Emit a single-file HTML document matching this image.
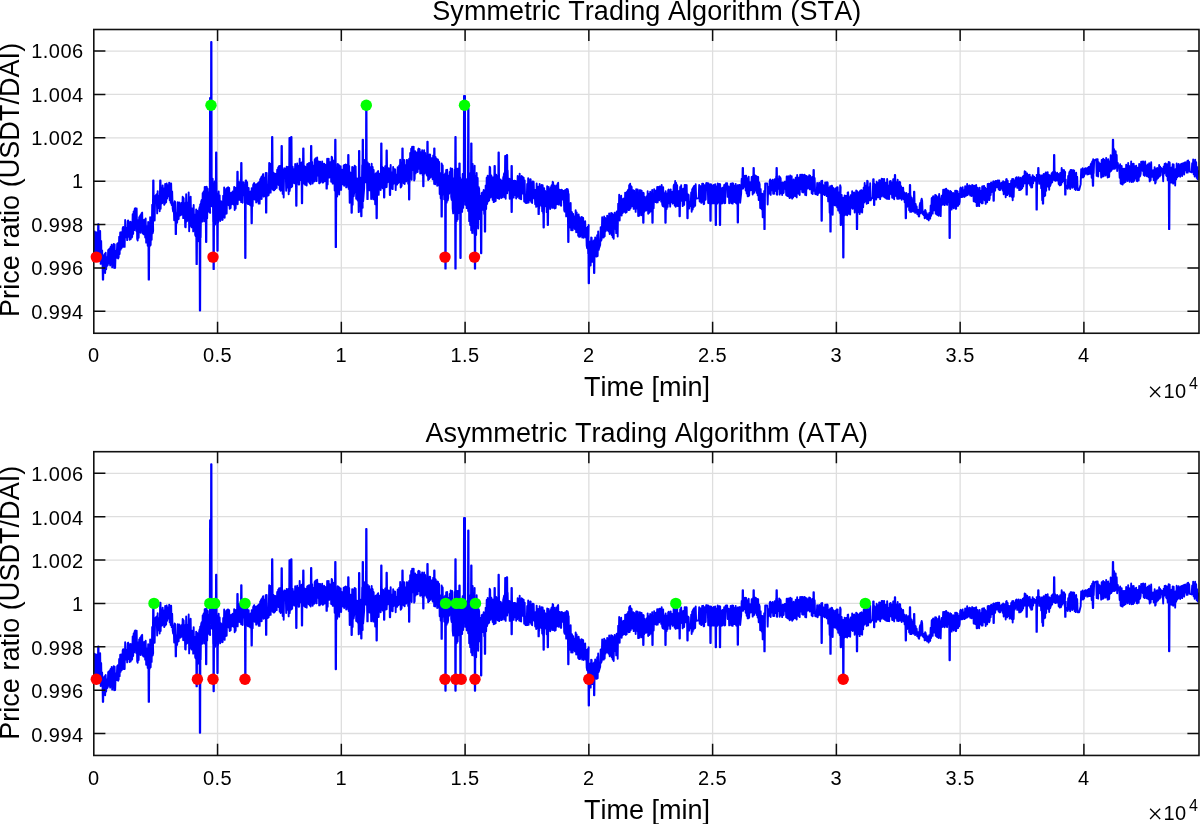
<!DOCTYPE html>
<html><head><meta charset="utf-8"><title>Trading Algorithms</title>
<style>html,body{margin:0;padding:0;background:#fff}body{width:1200px;height:824px;overflow:hidden}</style>
</head><body>
<svg width="1200" height="824" viewBox="0 0 1200 824" style="display:block">
<rect width="1200" height="824" fill="#fff"/>
<defs>
<clipPath id="c0"><rect x="93.8" y="29.5" width="1105.2" height="303.75"/></clipPath>
<clipPath id="c422"><rect x="93.8" y="451.7" width="1105.2" height="303.75000000000006"/></clipPath>
</defs>
<g font-family='"Liberation Sans", sans-serif' fill="#000" style="font-kerning:none">
<path d="M217.56 29.50V333.25M341.33 29.50V333.25M465.09 29.50V333.25M588.85 29.50V333.25M712.61 29.50V333.25M836.38 29.50V333.25M960.14 29.50V333.25M1083.90 29.50V333.25M93.80 311.31H1199.00M93.80 267.94H1199.00M93.80 224.57H1199.00M93.80 181.20H1199.00M93.80 137.83H1199.00M93.80 94.46H1199.00M93.80 51.09H1199.00" stroke="#dedede" stroke-width="1.3" fill="none"/>
<g clip-path="url(#c0)"><polyline points="93.67 248.27 94.17 249.40 94.67 231.53 95.17 253.69 95.67 232.51 96.17 232.31 96.67 255.19 97.17 234.62 97.67 257.23 98.17 257.90 97.88 243.67 98.13 224.17 98.53 224.17 98.78 243.67 98.67 258.56 99.17 232.83 99.67 259.90 100.17 231.01 100.67 263.88 101.17 240.87 101.67 263.59 102.17 250.34 102.67 270.10 102.55 264.92 102.80 279.67 103.20 279.67 103.45 264.92 103.17 255.41 103.67 256.07 104.17 255.08 104.67 254.09 105.17 273.09 105.67 252.82 106.17 269.30 106.67 256.90 107.17 265.86 107.67 265.36 108.17 250.08 108.67 249.58 109.17 263.48 109.67 248.34 110.17 265.46 110.67 246.69 111.17 261.11 111.67 244.73 112.17 267.41 112.67 248.35 113.17 265.05 113.67 243.99 114.17 268.03 114.67 244.50 115.17 267.85 115.67 251.71 116.17 250.93 116.67 257.74 117.17 244.05 117.67 243.13 118.17 258.53 118.67 257.20 119.17 236.68 119.67 253.94 120.17 232.56 120.67 249.63 121.17 232.31 121.67 247.93 122.17 246.60 122.67 228.12 123.17 226.93 123.67 246.88 124.17 246.87 124.67 246.86 125.17 220.01 125.67 237.33 126.17 227.98 126.67 227.78 127.17 240.16 127.67 221.10 128.17 220.43 128.67 236.92 129.17 224.09 129.67 239.82 130.17 221.67 130.67 239.15 131.17 222.09 131.67 237.64 132.17 236.97 132.67 214.15 133.17 233.86 133.67 211.33 134.17 230.16 134.67 209.04 135.17 208.18 135.67 208.57 136.17 230.69 136.67 208.40 137.17 239.02 137.67 240.57 138.17 220.30 138.67 237.76 139.17 217.18 139.67 232.16 140.17 215.41 140.67 232.77 141.17 214.60 141.67 213.11 142.17 212.62 142.67 233.13 143.17 233.73 143.67 234.32 144.17 219.81 144.67 220.29 145.17 237.44 145.67 218.51 146.17 242.65 146.67 226.02 147.17 227.15 147.67 245.71 148.17 222.07 148.67 242.85 148.38 234.50 148.63 279.67 149.03 279.67 149.28 234.50 149.17 224.71 149.67 246.51 150.17 217.13 150.67 245.00 151.17 218.69 151.67 239.68 152.17 204.82 152.67 233.42 153.17 230.93 152.88 211.67 153.13 180.50 153.53 180.50 153.78 211.67 153.67 196.68 154.17 196.57 154.67 220.48 155.17 196.09 155.67 195.51 156.17 194.93 156.67 194.34 157.17 213.38 157.67 191.09 158.17 208.17 158.67 207.24 159.17 195.75 159.67 211.28 160.17 186.35 159.88 197.79 160.13 180.50 160.53 180.50 160.78 197.79 160.67 208.82 161.17 187.33 161.67 203.49 162.17 203.20 162.67 185.40 163.17 201.40 163.67 188.36 164.17 204.78 164.67 203.80 165.17 183.85 165.67 202.79 166.17 202.13 166.67 183.35 167.17 198.50 167.67 185.20 168.17 196.40 168.67 196.36 169.17 182.61 169.67 200.20 170.17 183.53 170.67 202.85 171.17 183.51 171.67 204.96 172.17 191.47 172.67 208.27 173.17 211.48 173.67 203.43 174.17 220.26 174.67 201.21 175.17 202.04 175.67 223.55 175.38 213.00 175.63 234.17 176.03 234.17 176.28 213.00 176.17 223.75 176.67 223.12 177.17 222.48 177.67 202.09 178.17 219.37 178.67 218.98 179.17 202.35 179.67 215.71 180.17 215.47 180.67 215.23 181.17 202.92 181.67 214.43 182.17 214.10 182.67 196.80 183.17 218.14 183.67 198.20 184.17 217.61 184.67 202.83 185.17 226.96 185.67 227.36 186.17 194.26 186.67 221.49 187.17 220.93 187.67 202.41 188.17 216.93 188.67 192.34 189.17 231.20 189.67 198.45 190.17 224.54 190.67 196.59 191.17 226.37 191.67 227.31 192.17 208.41 192.67 208.99 193.17 231.42 193.67 204.94 194.17 230.02 194.67 214.42 195.17 234.84 195.67 236.16 196.17 209.40 196.22 224.17 196.47 264.17 196.87 264.17 197.12 224.17 196.67 240.32 197.17 210.66 197.67 211.66 198.17 212.66 198.67 241.32 199.17 209.24 199.67 206.89 199.55 222.29 199.80 310.50 200.20 310.50 200.45 222.29 200.17 204.46 200.67 237.56 201.17 201.87 201.67 200.01 202.17 221.63 202.67 193.31 203.17 218.06 203.67 191.37 204.17 221.38 204.67 186.99 205.17 220.18 205.67 186.83 205.72 201.56 205.97 242.00 206.37 242.00 206.62 201.56 206.17 218.37 206.67 186.71 207.17 218.19 207.67 188.73 208.17 208.98 208.67 192.67 209.17 211.87 209.67 212.39 210.17 212.91 209.75 200.71 210.00 98.00 210.40 98.00 210.65 200.71 210.67 181.93 211.17 181.20 210.85 200.32 211.10 42.00 211.50 42.00 211.75 200.32 211.67 206.27 212.17 206.24 212.67 178.67 213.17 221.86 213.22 200.58 213.47 269.17 213.87 269.17 214.12 200.58 213.67 188.85 214.17 213.89 214.67 181.53 215.17 224.59 215.67 188.75 216.17 190.32 215.75 205.65 216.00 152.50 216.40 152.50 216.65 205.65 216.67 192.58 217.17 221.28 217.05 207.42 217.30 250.83 217.70 250.83 217.95 207.42 217.67 193.87 218.17 222.72 218.67 191.40 219.17 219.03 219.67 195.37 220.17 221.10 220.67 200.87 221.17 201.54 221.67 202.22 222.17 220.00 222.67 219.66 223.17 195.71 223.67 216.90 224.17 187.35 224.67 217.68 225.17 193.97 225.67 213.87 226.17 188.83 226.67 213.51 227.17 187.73 227.67 187.48 228.17 187.23 228.67 205.29 229.17 187.94 229.67 208.75 230.17 208.32 230.67 207.99 231.17 192.59 231.67 204.26 232.17 203.93 232.67 191.57 233.17 191.90 233.67 204.63 234.17 186.95 234.67 210.10 235.17 187.73 235.67 208.57 236.17 187.83 236.67 200.49 237.17 184.22 237.05 194.67 237.30 171.67 237.70 171.67 237.95 194.67 237.67 204.18 238.17 182.74 238.67 181.74 239.17 199.72 239.67 187.80 240.17 200.04 240.67 180.06 241.17 202.13 240.88 191.04 241.13 163.00 241.53 163.00 241.78 191.04 241.67 180.73 242.17 202.32 242.67 202.73 243.17 182.29 243.67 182.36 244.17 195.42 244.67 185.73 245.17 200.99 244.88 192.08 245.13 258.00 245.53 258.00 245.78 192.08 245.67 180.49 246.17 180.49 246.67 202.08 247.17 182.27 247.67 203.78 248.17 204.11 248.67 187.91 249.17 204.17 249.67 193.28 250.17 205.22 250.67 191.36 251.17 206.24 251.22 197.50 251.47 223.33 251.87 223.33 252.12 197.50 251.67 188.10 252.17 206.11 252.67 206.06 253.17 184.99 253.67 183.99 254.17 183.00 254.67 199.59 255.17 184.59 255.67 184.54 256.17 202.50 256.67 201.89 257.17 183.92 257.67 183.46 258.17 182.99 258.67 203.61 259.17 181.97 259.67 203.67 260.17 179.32 260.67 198.74 261.17 177.20 261.67 199.03 262.17 176.48 262.67 175.25 263.17 174.02 263.67 196.62 264.17 177.82 264.67 177.40 265.17 195.96 265.67 173.03 265.72 182.50 265.97 212.67 266.37 212.67 266.62 182.50 266.17 193.72 266.67 172.86 267.17 195.95 267.67 195.66 268.17 195.38 268.67 195.09 269.17 163.01 269.67 192.76 270.17 163.64 270.67 192.67 271.17 168.37 271.67 187.47 272.17 166.74 271.75 178.06 272.00 137.00 272.40 137.00 272.65 178.06 272.67 189.51 273.17 172.40 273.67 190.27 274.17 190.28 274.67 173.38 275.17 189.29 275.67 173.90 276.17 187.76 276.67 187.91 277.17 169.78 277.67 184.27 278.17 167.51 278.67 184.95 279.17 165.94 279.67 189.47 280.17 166.05 280.67 190.82 281.17 168.63 281.67 189.68 281.25 178.42 281.50 146.00 281.90 146.00 282.15 178.42 282.17 169.09 282.67 193.87 283.17 170.20 283.67 197.58 284.17 168.28 284.67 168.47 285.17 168.65 285.67 168.84 286.17 190.82 286.67 166.82 287.17 187.61 287.67 187.29 288.17 167.00 288.67 194.19 289.17 166.45 289.15 179.35 289.40 138.00 289.80 138.00 290.05 179.35 289.67 190.95 290.17 186.08 290.67 170.33 291.17 187.34 290.88 175.83 291.13 137.00 291.53 137.00 291.78 175.83 291.67 170.74 292.17 186.51 292.67 166.67 293.17 178.55 293.67 169.16 294.17 183.34 294.67 183.32 295.17 163.95 295.67 179.19 296.17 166.40 295.88 174.33 296.13 205.83 296.53 205.83 296.78 174.33 296.67 181.19 297.17 163.48 297.67 180.78 298.17 165.85 298.67 184.49 299.17 184.45 299.67 158.69 300.17 180.15 300.67 162.98 301.17 178.07 301.67 162.54 301.55 170.71 301.80 203.33 302.20 203.33 302.45 170.71 302.17 163.30 302.67 164.07 303.17 164.83 302.88 172.32 303.13 148.33 303.53 148.33 303.78 172.32 303.67 165.60 304.17 183.77 304.67 166.30 305.17 184.82 305.67 166.99 306.17 167.23 306.67 185.47 307.17 164.21 307.67 177.79 308.17 163.58 308.67 181.90 309.17 162.89 309.67 183.20 310.17 168.83 310.67 184.35 310.72 173.18 310.97 145.83 311.37 145.83 311.62 173.18 311.17 162.32 311.67 180.36 312.17 162.01 312.67 183.58 313.17 165.79 313.67 181.69 314.17 181.54 314.67 159.77 315.17 159.04 315.67 158.30 316.17 181.14 316.67 181.07 317.17 157.41 317.67 175.41 318.17 175.65 318.67 161.47 319.17 183.19 319.67 183.20 320.17 161.66 320.67 181.98 321.17 166.14 321.67 180.64 322.17 161.45 322.67 182.62 323.17 182.49 323.67 163.98 324.17 163.65 324.67 181.25 325.17 164.65 325.67 178.06 326.17 178.11 326.22 171.38 326.47 188.67 326.87 188.67 327.12 171.38 326.67 178.16 327.17 158.78 327.67 184.42 328.17 159.17 328.67 158.72 329.17 177.67 329.67 162.11 330.17 176.34 330.67 161.94 331.17 181.83 331.67 156.74 332.17 157.89 332.67 183.65 333.17 160.51 333.67 183.52 334.17 165.41 334.67 190.59 335.17 172.38 334.88 178.75 335.13 139.67 335.53 139.67 335.78 178.75 335.67 173.25 335.38 179.82 335.63 247.17 336.03 247.17 336.28 179.82 336.17 197.02 336.67 169.12 337.17 196.59 337.67 164.03 338.17 164.49 338.67 164.71 339.17 194.48 339.67 166.08 340.17 189.71 340.67 166.20 341.17 189.90 341.67 169.75 342.17 182.38 342.67 169.79 343.17 184.45 343.67 165.44 344.17 185.78 344.67 165.02 345.17 182.69 345.67 164.36 346.17 187.37 346.67 164.97 347.17 181.51 347.67 166.42 348.17 187.27 347.88 179.82 348.13 155.00 348.53 155.00 348.78 179.82 348.67 188.91 349.17 165.84 349.67 202.73 350.17 172.31 350.67 172.81 351.17 172.89 351.22 188.12 351.47 212.83 351.87 212.83 352.12 188.12 351.67 205.30 352.17 166.92 352.67 204.70 353.17 167.35 353.67 196.40 354.17 192.63 354.67 165.67 355.17 185.10 355.67 166.59 356.17 198.85 356.67 178.26 357.17 198.08 357.67 200.45 358.17 178.52 358.67 212.17 358.72 187.83 358.97 150.83 359.37 150.83 359.62 187.83 359.17 162.82 359.67 205.99 360.17 177.35 360.67 211.68 361.17 178.55 360.88 187.50 361.13 216.33 361.53 216.33 361.78 187.50 361.67 199.29 362.17 165.27 362.67 207.74 362.38 180.83 362.63 139.67 363.03 139.67 363.28 180.83 363.17 201.20 363.67 194.66 364.17 188.12 364.67 159.90 365.17 160.34 365.67 182.28 366.17 164.33 365.88 176.89 366.13 106.67 366.53 106.67 366.78 176.89 366.67 164.79 367.17 190.00 367.05 178.04 367.30 199.17 367.70 199.17 367.95 178.04 367.67 162.41 368.17 183.36 368.67 183.89 369.17 164.00 369.67 190.40 370.17 167.16 370.67 167.34 371.17 198.98 371.67 163.72 372.17 197.41 372.67 167.00 373.17 199.25 373.67 169.89 374.17 199.38 374.67 179.58 375.17 204.31 375.67 173.40 376.17 199.67 376.22 188.75 376.47 218.33 376.87 218.33 377.12 188.75 376.67 173.17 377.17 172.59 377.67 171.90 378.17 170.99 378.67 194.88 379.17 174.49 379.67 189.20 380.17 173.35 380.67 190.00 381.17 172.90 380.88 177.50 381.13 143.33 381.53 143.33 381.78 177.50 381.67 186.09 382.17 166.90 382.67 188.33 383.17 167.66 383.67 186.99 383.72 176.85 383.97 197.50 384.37 197.50 384.62 176.85 384.17 169.40 384.67 187.34 385.17 166.31 385.67 187.33 386.17 187.16 386.22 175.71 386.47 150.50 386.87 150.50 387.12 175.71 386.67 186.99 387.17 170.20 387.67 182.22 388.17 168.14 388.67 180.89 389.17 168.44 389.67 186.22 389.55 176.38 389.80 195.00 390.20 195.00 390.45 176.38 390.17 186.49 390.67 164.88 391.17 188.53 391.67 172.26 392.17 172.69 392.67 189.14 393.17 166.99 393.67 183.77 394.17 169.15 394.67 169.26 395.17 169.38 395.67 190.10 396.17 174.64 396.67 174.73 397.17 184.49 397.67 167.19 398.17 182.98 398.67 182.55 399.17 165.41 399.67 181.68 400.17 159.73 400.67 187.55 401.17 186.70 401.67 185.85 402.17 159.76 402.05 172.25 402.30 148.33 402.70 148.33 402.95 172.25 402.67 176.97 403.17 159.68 403.67 183.20 404.17 159.90 404.67 183.98 405.17 165.00 405.67 181.19 406.17 181.40 406.67 160.01 407.17 177.18 407.67 160.18 408.17 183.81 408.67 183.30 408.72 169.58 408.97 199.50 409.37 199.50 409.62 169.58 409.17 158.66 409.67 182.34 410.17 152.99 410.67 174.45 411.17 148.73 411.67 179.78 412.17 146.60 412.67 169.53 413.17 170.04 413.67 146.61 414.17 180.47 414.67 178.99 415.17 151.31 415.67 173.36 416.17 153.37 416.67 152.53 417.17 171.87 417.67 172.05 418.17 149.24 418.67 148.62 419.17 168.80 419.67 149.21 420.17 173.60 420.67 152.22 421.17 152.35 421.67 173.18 422.17 150.14 422.67 175.34 423.17 153.17 422.88 162.33 423.13 186.33 423.53 186.33 423.78 162.33 423.67 168.40 424.17 150.21 424.67 173.46 425.17 152.85 425.67 170.17 426.17 159.05 426.67 174.70 427.17 175.64 427.05 166.06 427.30 141.67 427.70 141.67 427.95 166.06 427.67 153.23 428.17 180.01 428.67 157.08 429.17 179.03 429.67 154.47 430.17 154.69 430.67 177.60 431.17 158.30 431.67 158.22 432.17 158.51 432.67 179.37 433.17 155.52 433.67 155.94 434.17 183.92 433.88 171.28 434.13 148.33 434.53 148.33 434.78 171.28 434.67 166.79 435.17 184.31 435.67 157.19 436.17 178.21 436.67 159.28 437.17 185.78 437.67 159.32 438.17 159.99 438.67 185.34 439.17 161.86 439.67 194.00 440.17 172.89 440.67 198.30 441.17 199.12 441.22 181.83 441.47 216.67 441.87 216.67 442.12 181.83 441.67 163.33 442.17 195.24 442.67 165.36 443.17 190.99 443.67 174.74 444.17 199.37 444.67 199.76 445.17 173.39 445.05 184.21 445.30 268.67 445.70 268.67 445.95 184.21 445.67 200.95 446.17 170.02 446.67 202.62 447.17 169.66 447.67 200.63 448.17 198.15 448.67 175.65 449.17 193.63 449.67 171.84 450.17 190.97 450.67 168.21 451.17 196.74 451.67 199.92 452.17 168.72 452.67 208.45 453.17 213.42 453.67 178.13 454.17 207.50 454.67 169.63 455.17 222.60 455.05 195.08 455.30 137.00 455.70 137.00 455.95 195.08 455.05 195.08 455.30 268.67 455.70 268.67 455.95 195.08 455.67 222.10 456.17 178.88 456.67 221.15 457.17 168.79 457.67 219.39 458.17 168.79 458.67 213.16 459.17 170.18 459.05 192.13 459.30 163.33 459.70 163.33 459.95 192.13 459.67 212.88 460.17 177.44 460.05 192.73 460.30 258.00 460.70 258.00 460.95 192.73 460.67 213.22 461.17 179.44 461.67 211.87 462.17 211.87 462.67 173.93 463.17 207.91 463.67 172.99 463.72 186.67 463.97 95.83 464.37 95.83 464.62 186.67 464.17 197.53 464.67 201.12 464.38 190.67 464.63 95.83 465.03 95.83 465.28 190.67 465.17 204.71 465.67 178.86 466.17 179.13 466.67 208.16 467.17 186.81 467.67 187.02 468.17 211.04 467.88 195.83 468.13 108.33 468.53 108.33 468.78 195.83 468.67 175.52 469.17 221.15 469.67 174.56 470.17 224.93 470.67 172.65 471.17 230.36 470.88 199.87 471.13 143.33 471.53 143.33 471.78 199.87 471.67 167.65 472.17 233.07 472.67 163.85 473.17 224.62 473.67 174.69 474.17 233.68 474.67 165.82 474.55 202.22 474.80 268.67 475.20 268.67 475.45 202.22 475.17 236.97 475.67 176.64 476.17 235.00 476.67 172.99 477.17 217.74 477.67 178.02 478.17 228.57 478.67 186.98 479.17 188.99 479.67 219.02 480.17 218.59 480.67 195.86 480.72 206.62 480.97 253.33 481.37 253.33 481.62 206.62 481.17 219.07 481.67 193.01 482.17 192.66 482.67 192.32 483.17 209.73 483.67 189.93 484.17 213.95 484.67 194.88 484.55 197.47 484.80 231.67 485.20 231.67 485.45 197.47 485.17 211.61 485.67 185.39 486.17 209.08 486.67 177.77 487.17 203.86 487.67 175.76 488.17 201.44 488.67 200.93 489.17 200.42 489.67 166.61 490.17 167.62 490.67 197.54 491.17 175.21 491.67 176.71 492.17 178.22 492.67 199.89 493.17 177.56 493.67 202.11 494.17 177.16 494.22 188.30 494.47 165.83 494.87 165.83 495.12 188.30 494.67 201.49 495.17 174.87 495.67 201.05 496.17 174.68 496.67 196.07 497.17 176.34 497.67 198.15 498.17 181.46 498.22 187.30 498.47 152.50 498.87 152.50 499.12 187.30 498.67 181.48 499.17 198.92 499.67 180.46 500.17 194.88 500.67 179.47 501.17 197.93 501.67 181.01 502.17 180.88 502.67 197.41 503.17 177.75 503.67 175.89 504.17 173.16 504.67 197.32 505.17 164.32 504.88 180.00 505.13 155.83 505.53 155.83 505.78 180.00 505.67 198.68 506.17 172.40 506.67 173.77 506.55 181.50 506.80 155.00 507.20 155.00 507.45 181.50 507.17 193.26 507.67 170.55 508.17 189.53 508.67 190.39 509.17 178.76 509.67 198.68 510.17 179.27 510.67 179.41 511.17 197.95 511.22 187.08 511.47 165.83 511.87 165.83 512.12 187.08 511.22 187.08 511.47 212.00 511.87 212.00 512.12 187.08 511.67 177.66 512.17 197.73 512.67 180.86 513.17 180.99 513.67 197.65 514.17 180.79 514.67 180.69 515.17 195.04 515.67 180.95 516.17 198.51 516.67 182.81 517.17 196.96 517.67 175.97 518.17 196.20 518.67 177.10 519.17 198.33 519.67 173.62 520.17 198.75 520.67 180.28 521.17 199.23 521.67 176.07 522.17 176.67 522.67 193.56 523.17 177.36 523.67 177.69 524.17 201.44 524.67 180.38 525.17 202.24 525.67 202.90 526.17 202.99 526.67 202.80 527.17 183.83 527.67 202.75 528.17 178.26 528.67 202.52 529.17 183.09 529.67 200.19 530.17 179.17 530.67 179.43 531.17 201.62 531.67 202.33 532.17 203.03 532.67 181.39 533.17 181.66 533.67 181.93 534.17 198.45 534.67 189.90 535.17 204.27 535.67 189.75 536.17 206.85 536.67 183.42 537.17 206.19 537.67 206.06 538.17 186.63 538.22 196.45 538.47 214.17 538.87 214.17 539.12 196.45 538.67 208.98 539.17 208.79 539.67 184.00 540.17 204.34 540.67 189.08 541.17 205.75 541.67 184.99 542.17 211.27 542.67 185.26 543.17 213.47 543.22 200.31 543.47 227.50 543.87 227.50 544.12 200.31 543.67 188.20 544.17 188.17 544.67 206.58 545.17 191.03 545.67 203.88 546.17 194.89 546.67 212.13 547.17 186.24 547.67 209.18 547.38 199.82 547.63 225.00 548.03 225.00 548.28 199.82 548.17 209.12 548.67 186.85 549.17 203.80 549.67 190.45 550.17 209.08 550.67 188.29 551.17 186.75 551.67 185.21 552.17 207.90 552.67 181.68 553.17 182.51 553.67 207.77 554.17 185.43 554.67 208.53 555.17 187.72 555.67 208.07 556.17 185.34 556.67 204.42 557.17 203.94 557.67 183.51 558.17 182.84 558.67 204.65 559.17 189.46 559.67 199.15 560.17 189.93 560.67 205.55 561.17 205.69 561.67 189.66 562.17 190.26 562.67 190.87 563.17 199.80 563.67 190.87 564.17 209.91 564.67 211.65 565.17 190.05 565.67 191.57 566.17 216.41 566.67 188.85 567.17 212.88 567.67 189.27 568.17 191.60 567.88 209.22 568.13 242.00 568.53 242.00 568.78 209.22 568.67 193.93 569.17 224.01 569.67 226.04 570.17 227.45 570.67 202.99 571.17 230.34 571.67 211.78 572.17 213.01 572.67 230.27 573.17 213.88 573.67 224.60 574.17 216.57 574.67 228.79 575.17 229.23 575.67 210.16 576.17 232.28 576.67 212.35 577.17 231.98 577.67 215.31 578.17 235.81 578.67 214.49 579.17 236.91 579.67 217.25 580.17 236.65 580.67 220.32 581.17 232.92 581.67 216.88 582.17 237.46 582.67 217.77 583.17 217.93 583.67 237.80 584.17 224.20 584.67 236.50 585.17 221.14 585.67 237.38 586.17 227.59 586.67 245.49 587.17 248.23 587.67 226.99 588.17 253.79 588.67 224.90 588.38 245.00 588.63 283.33 589.03 283.33 589.28 245.00 589.17 259.99 589.67 263.11 590.17 241.35 590.67 265.43 591.17 237.41 591.67 237.82 592.17 261.92 592.67 242.43 593.17 241.28 593.67 257.39 593.72 245.83 593.97 273.00 594.37 273.00 594.62 245.83 594.17 240.26 594.67 257.20 595.17 237.34 595.67 256.35 596.17 256.34 596.67 256.56 597.17 235.08 597.67 256.10 598.17 231.34 598.67 249.92 599.17 247.88 599.67 246.37 600.17 244.85 600.67 227.15 601.17 240.62 601.67 239.04 602.17 217.25 602.67 237.38 603.17 224.00 603.67 237.43 604.17 216.49 604.67 236.32 605.17 218.01 605.67 231.28 606.17 219.25 606.67 229.76 607.17 215.63 607.67 230.10 608.17 230.77 608.67 231.43 609.17 213.37 609.67 233.99 610.17 216.59 610.67 232.61 611.17 212.89 611.67 234.98 612.17 213.39 612.67 237.29 613.17 215.16 613.67 238.84 614.17 215.26 614.67 212.64 615.17 228.81 615.67 215.20 616.17 233.16 616.67 211.65 617.17 211.30 617.67 236.54 618.17 203.60 618.67 218.15 619.17 194.78 619.67 220.53 620.17 202.12 620.67 211.74 621.17 195.59 621.67 215.50 622.17 200.18 622.67 212.99 623.17 198.84 623.67 198.56 624.17 211.83 624.67 211.70 625.17 192.60 625.67 212.71 626.17 192.77 626.67 212.04 627.17 191.46 627.67 206.45 628.17 189.70 628.67 210.15 629.17 185.12 629.67 209.84 630.17 183.65 630.67 207.99 631.17 186.15 631.67 186.93 632.17 206.36 632.67 206.34 633.17 190.10 633.67 208.91 634.17 190.68 634.67 208.46 635.17 193.05 635.67 211.86 636.17 189.31 636.67 189.33 637.17 208.54 637.67 189.48 638.17 215.97 638.67 215.85 639.17 215.72 639.67 190.12 640.17 190.23 640.67 190.35 641.17 215.22 641.67 190.77 642.17 212.62 642.67 212.53 643.17 192.76 642.88 203.69 643.13 222.83 643.53 222.83 643.78 203.69 643.67 192.99 644.17 211.93 644.67 196.86 645.17 210.69 645.67 210.54 646.17 210.54 646.67 196.08 647.17 209.73 647.67 191.17 648.17 213.77 648.67 193.98 649.17 212.78 649.67 212.28 650.17 191.73 650.67 211.28 651.17 196.27 651.67 203.95 652.17 190.01 652.05 199.06 652.30 222.83 652.70 222.83 652.95 199.06 652.67 204.31 653.17 194.01 653.67 208.35 654.17 189.09 654.67 201.47 655.17 190.86 655.67 202.17 656.17 190.50 656.67 202.54 657.17 186.97 657.67 202.41 658.17 187.03 658.67 200.23 659.17 200.19 659.67 186.42 660.17 195.84 660.67 186.71 661.17 201.67 661.67 185.01 662.17 204.00 662.67 206.00 663.17 187.31 663.67 206.65 664.17 192.89 664.67 193.54 665.17 209.13 665.05 198.63 665.30 222.83 665.70 222.83 665.95 198.63 665.67 191.32 666.17 209.43 666.67 208.97 667.17 193.51 667.67 206.87 668.17 190.31 668.67 189.48 669.17 203.31 669.67 191.82 670.17 206.65 670.67 189.33 671.17 202.06 671.67 192.04 672.17 191.81 672.67 203.65 673.17 203.17 673.67 185.79 674.17 184.39 674.67 205.45 675.17 180.97 675.67 206.69 676.17 182.84 676.67 205.77 677.17 185.24 677.67 206.02 678.17 206.01 678.67 191.08 679.17 191.01 679.22 196.45 679.47 216.33 679.87 216.33 680.12 196.45 679.67 205.70 680.17 187.03 680.67 200.97 681.17 185.18 681.67 200.62 682.17 189.56 682.67 206.15 683.17 188.75 683.67 188.73 684.17 204.90 684.67 184.98 685.17 185.03 685.67 200.20 686.17 185.06 686.67 185.23 687.17 205.44 687.05 197.20 687.30 218.33 687.70 218.33 687.95 197.20 687.67 194.02 688.17 203.14 688.67 194.88 689.17 208.44 689.67 202.10 690.17 205.95 690.67 206.07 691.17 192.45 691.67 211.82 692.17 189.30 692.67 209.46 693.17 187.33 693.67 207.32 694.17 186.04 694.67 185.92 695.17 205.84 695.67 184.17 696.17 198.67 696.67 198.55 697.17 198.42 697.67 198.33 698.17 198.29 698.67 198.25 699.17 184.94 699.67 201.54 700.17 186.13 700.67 186.21 701.17 202.84 701.67 202.75 702.17 183.79 702.67 183.71 703.17 183.63 703.67 204.18 704.17 204.10 704.67 185.08 705.17 199.89 705.67 199.81 706.17 183.09 706.67 183.00 707.17 183.13 707.67 183.25 708.17 203.02 708.67 183.48 709.17 203.30 709.67 185.48 710.17 200.68 710.05 193.83 710.30 220.83 710.70 220.83 710.95 193.83 710.67 184.27 711.17 184.40 711.67 203.58 712.17 185.74 712.67 185.85 713.17 203.39 713.67 184.87 714.17 203.34 714.67 203.34 715.17 184.20 715.67 203.06 715.38 193.60 715.63 225.00 716.03 225.00 716.28 193.60 716.17 186.57 716.67 186.40 717.17 203.66 717.67 183.35 718.17 202.62 718.67 202.62 719.17 184.02 719.67 184.10 719.55 193.56 719.80 225.00 720.20 225.00 720.45 193.56 720.17 184.18 720.67 203.59 721.17 203.59 721.67 203.59 722.17 188.04 722.67 203.19 723.17 187.39 723.67 198.85 724.17 185.03 724.67 203.23 725.17 203.13 725.67 183.40 726.17 183.30 726.67 183.20 727.17 183.20 727.67 196.86 728.17 186.44 728.67 186.45 729.17 203.18 729.67 188.55 730.17 196.87 730.67 183.82 731.17 203.17 731.67 203.25 732.17 183.29 732.67 203.67 733.17 183.53 733.67 201.91 734.17 185.69 734.67 201.93 735.17 201.96 735.67 183.86 736.17 203.32 736.67 189.53 737.17 203.91 737.67 185.13 737.38 193.49 737.63 222.50 738.03 222.50 738.28 193.49 738.17 199.58 738.67 199.61 739.17 185.03 739.67 184.89 740.17 202.73 740.67 198.01 741.17 193.29 741.67 178.77 742.17 188.68 742.67 176.16 742.38 182.31 742.63 168.00 743.03 168.00 743.28 182.31 743.17 188.53 743.67 175.98 744.17 175.86 744.67 186.84 745.17 175.60 745.67 190.50 746.17 175.80 746.67 193.48 747.17 178.09 747.67 196.21 748.17 196.21 748.67 176.61 749.17 195.61 749.67 181.84 750.17 190.32 750.67 190.32 751.17 189.99 751.67 177.02 752.17 176.89 752.67 194.43 753.17 175.37 753.22 184.12 753.47 168.00 753.87 168.00 754.12 184.12 753.67 193.13 754.17 192.46 754.67 174.88 755.17 190.66 755.67 175.91 756.17 176.07 756.67 192.88 757.17 176.68 757.67 195.30 758.17 177.03 758.67 200.06 759.17 182.30 759.67 184.37 760.17 207.94 760.67 188.99 761.17 207.25 761.67 209.35 762.17 193.73 762.67 217.22 763.17 194.16 763.67 214.48 764.17 191.06 764.05 198.83 764.30 229.17 764.70 229.17 764.95 198.83 764.67 213.59 765.17 183.36 765.67 183.34 766.17 183.34 766.67 183.34 767.17 183.34 767.67 204.47 768.17 187.94 768.67 186.72 769.17 193.61 769.67 180.95 770.17 179.51 770.67 194.86 771.17 180.60 771.67 190.29 772.17 190.22 772.67 179.79 773.17 193.84 773.67 193.73 774.17 193.85 774.67 179.12 775.17 191.00 775.67 190.93 776.17 176.43 776.22 185.00 776.47 168.00 776.87 168.00 777.12 185.00 776.67 194.50 777.17 194.67 777.67 179.32 778.17 179.22 778.67 188.73 779.17 176.21 779.67 194.64 780.17 177.27 780.67 178.51 781.17 193.13 781.67 183.23 782.17 194.97 782.67 182.54 783.17 193.06 783.67 192.79 784.17 182.89 784.67 181.73 785.17 188.69 785.67 181.56 786.17 194.97 786.67 176.47 787.17 195.89 787.67 196.01 788.17 176.14 788.67 196.48 789.17 177.55 789.67 198.12 790.17 175.45 790.67 197.24 791.17 197.11 791.67 176.31 792.17 198.62 792.67 182.71 793.17 197.35 793.67 179.52 794.17 195.71 794.67 195.87 795.17 196.04 795.67 177.67 796.17 177.55 796.67 197.37 797.17 175.05 797.67 193.26 798.17 178.09 798.67 193.77 799.17 177.52 799.67 194.96 800.17 174.71 800.67 189.41 801.17 189.16 801.67 174.67 802.17 192.04 802.67 174.73 803.17 192.53 803.67 175.62 804.17 191.62 804.67 174.66 805.17 194.89 805.67 176.07 806.17 195.20 806.67 176.06 807.17 188.55 807.67 188.47 808.17 176.92 808.67 187.84 809.17 175.18 809.67 189.37 810.17 175.74 810.67 189.11 811.17 179.38 811.67 193.34 812.17 176.83 812.67 193.99 813.17 177.16 813.22 185.50 813.47 170.00 813.87 170.00 814.12 185.50 813.67 190.83 814.17 177.97 814.67 178.20 815.17 193.85 815.67 194.05 816.17 194.24 816.67 194.44 817.17 182.93 817.67 195.00 818.17 185.68 818.67 193.21 819.17 182.82 819.67 192.36 820.17 185.61 820.67 192.93 821.17 181.27 821.22 188.08 821.47 220.83 821.87 220.83 822.12 188.08 821.67 195.40 822.17 180.68 822.67 190.42 823.17 185.05 823.67 194.37 824.17 194.46 824.67 195.02 825.17 182.40 825.67 194.58 826.17 182.45 826.67 196.17 827.17 182.32 827.67 182.74 828.17 201.42 828.67 187.44 829.17 188.90 829.67 212.68 830.17 186.20 830.05 199.96 830.30 231.67 830.70 231.67 830.95 199.96 830.67 211.74 831.17 211.68 831.67 185.58 832.17 185.94 832.67 214.75 833.17 187.94 833.67 203.21 834.17 194.85 834.67 205.27 835.17 188.41 835.67 205.50 836.17 205.59 836.67 187.34 837.17 207.31 837.67 187.18 838.17 210.49 838.67 192.45 839.17 192.43 839.67 212.90 840.17 185.31 840.67 187.14 840.38 202.08 840.63 225.00 841.03 225.00 841.28 202.08 841.17 214.73 841.67 194.83 842.17 211.01 842.67 211.59 843.17 197.63 842.88 205.22 843.13 257.50 843.53 257.50 843.78 205.22 843.67 215.88 844.17 215.72 844.67 195.38 845.17 214.80 845.67 214.67 846.17 195.98 846.67 195.74 847.17 215.34 847.67 192.61 848.17 192.36 848.67 213.87 849.17 197.38 849.67 197.21 850.17 214.57 850.67 195.26 851.17 207.87 851.67 207.41 852.17 191.32 852.67 208.75 853.17 193.39 853.67 206.64 854.17 192.36 854.67 212.58 855.17 198.05 855.67 207.12 856.17 190.51 856.67 209.73 856.55 202.20 856.80 229.17 857.20 229.17 857.45 202.20 857.17 191.22 857.67 210.15 858.17 192.59 858.67 211.96 859.17 192.20 859.67 213.95 860.17 190.82 860.67 211.80 861.17 190.39 861.67 190.14 862.17 212.48 862.67 195.63 863.17 207.15 863.67 187.52 864.17 202.53 864.67 182.95 865.17 201.67 865.67 185.70 866.17 185.57 866.67 203.68 867.17 180.74 867.67 180.99 868.17 203.17 868.67 187.35 869.17 187.53 869.67 200.21 870.17 183.19 870.67 200.25 871.17 199.25 871.67 198.25 872.17 198.17 872.67 198.09 873.17 179.17 873.67 179.17 873.72 189.38 873.97 205.00 874.37 205.00 874.62 189.38 874.17 198.17 874.67 184.28 875.17 192.38 875.67 186.22 876.17 199.49 876.67 181.60 877.17 197.42 877.67 197.42 878.17 182.92 878.67 197.25 879.17 180.19 879.67 180.19 880.17 199.14 880.67 180.72 881.17 196.51 881.67 178.82 882.17 195.17 882.67 178.84 883.17 196.55 883.67 196.59 884.17 178.86 884.67 197.33 885.17 197.57 885.67 182.61 886.17 198.43 886.67 198.68 887.17 179.03 887.67 198.81 888.17 185.45 888.67 198.83 889.17 198.96 889.67 181.56 890.17 192.51 890.67 180.86 891.17 194.29 891.67 182.33 892.17 197.82 892.67 197.90 893.17 179.26 893.67 179.26 894.17 199.22 894.67 179.13 894.55 188.94 894.80 175.00 895.20 175.00 895.45 188.94 895.17 194.04 895.67 185.76 896.17 196.31 896.67 182.28 897.17 198.72 897.67 179.74 898.17 198.90 898.67 186.09 899.17 198.61 899.67 181.80 900.17 182.31 900.67 198.30 901.17 186.19 901.67 199.83 902.17 188.05 902.67 197.01 903.17 187.78 903.67 199.20 904.17 192.30 904.67 202.21 905.17 194.82 905.67 205.70 905.38 199.50 905.63 218.33 906.03 218.33 906.28 199.50 906.17 192.87 906.67 193.54 907.17 206.77 907.67 197.73 908.17 204.15 908.67 193.92 909.17 210.19 909.67 193.40 909.55 202.67 909.80 185.00 910.20 185.00 910.45 202.67 910.17 211.88 910.67 195.93 911.17 211.92 911.67 197.59 912.17 210.97 912.67 199.43 913.17 211.57 913.67 202.59 913.72 205.83 913.97 191.67 914.37 191.67 914.62 205.83 914.17 211.45 914.67 204.66 915.17 212.87 915.67 204.07 916.17 211.86 916.67 206.52 917.17 213.96 917.67 214.29 918.17 210.05 918.67 216.27 919.17 216.60 919.67 205.52 920.17 203.03 920.67 213.40 921.17 200.66 921.67 198.69 922.17 201.00 922.67 213.82 923.17 214.51 923.67 215.11 924.17 211.51 924.67 218.21 925.17 210.02 925.67 211.02 926.17 217.81 926.67 213.15 927.17 219.12 927.67 214.70 928.17 214.83 928.67 220.38 929.17 213.06 929.67 213.06 930.17 218.65 930.67 205.48 931.17 215.68 931.67 198.31 932.17 197.66 932.67 213.67 933.17 196.24 933.67 210.45 934.17 210.33 934.67 210.44 935.17 194.89 935.67 213.62 936.17 195.33 936.67 214.40 937.17 214.73 937.67 215.06 938.17 196.51 938.67 215.84 939.17 194.01 939.67 214.01 940.17 203.64 940.67 216.15 941.17 198.69 941.67 195.64 942.17 204.79 942.67 202.44 943.17 189.69 943.67 204.46 944.17 189.65 944.67 205.11 945.17 189.56 945.67 202.30 946.17 188.64 946.67 204.36 947.17 204.91 947.67 190.24 948.17 190.53 948.67 202.03 949.17 193.04 949.22 199.19 949.47 238.00 949.87 238.00 950.12 199.19 949.67 207.79 950.17 190.93 950.67 207.04 951.17 191.75 951.67 209.44 952.17 193.30 952.67 193.15 953.17 193.01 953.67 208.26 954.17 194.08 954.67 203.55 955.17 190.59 955.67 208.77 956.17 208.77 956.67 190.60 957.17 206.07 957.67 191.41 958.17 205.82 958.67 193.83 959.17 204.19 959.67 201.92 960.17 188.95 960.67 187.60 961.17 196.98 961.67 189.90 962.17 197.01 962.67 187.27 963.17 195.84 963.67 190.22 964.17 196.97 964.67 196.80 965.17 186.15 965.67 195.77 966.17 195.58 966.67 195.39 967.17 184.01 967.67 195.03 968.17 186.59 968.67 193.75 969.17 185.66 969.67 185.48 970.17 195.49 970.67 186.18 971.17 186.64 971.67 196.03 972.17 184.84 972.67 185.38 973.17 186.04 973.67 201.34 974.17 185.63 974.67 201.55 975.17 186.25 975.67 202.12 976.17 184.89 976.67 206.03 977.17 206.03 977.67 187.81 978.17 205.33 978.67 192.31 979.17 206.10 979.67 187.81 980.17 201.99 980.67 191.06 981.17 191.06 981.67 203.31 982.17 186.53 982.67 203.32 983.17 186.23 983.67 186.14 984.17 186.01 984.67 200.22 985.17 187.72 985.67 203.88 986.17 189.01 986.67 188.83 987.17 202.22 987.67 184.07 988.17 196.63 988.67 183.63 989.17 200.11 989.67 198.47 990.17 183.65 990.67 195.04 991.17 182.56 991.67 192.02 992.17 184.14 992.67 191.52 993.17 181.56 993.22 186.28 993.47 200.83 993.87 200.83 994.12 186.28 993.67 181.36 994.17 191.02 994.67 182.10 995.17 190.61 995.67 180.91 996.17 180.84 996.67 187.38 997.17 187.38 997.67 180.52 998.17 180.52 998.67 189.37 999.17 180.50 999.67 190.17 1000.17 190.04 1000.67 183.17 1001.17 183.14 1001.67 188.45 1002.17 182.37 1002.67 190.54 1003.17 181.17 1003.67 194.26 1004.17 182.56 1004.67 182.16 1005.17 181.75 1005.67 197.26 1006.17 179.26 1006.67 178.92 1007.17 195.16 1007.67 180.68 1008.17 193.90 1008.67 183.76 1009.17 183.97 1009.67 196.40 1010.17 183.81 1010.67 195.43 1011.17 180.80 1011.67 196.80 1012.17 179.04 1012.67 200.30 1013.17 178.87 1013.67 196.83 1014.17 180.53 1014.67 187.40 1015.17 186.26 1015.67 178.23 1016.17 177.73 1016.67 177.23 1017.17 187.68 1017.67 187.64 1018.17 187.71 1018.67 177.14 1019.17 190.16 1019.67 190.17 1020.17 190.06 1020.67 177.59 1021.17 189.38 1021.67 179.03 1022.17 188.18 1022.67 176.77 1023.17 186.36 1023.67 175.73 1024.17 183.56 1024.67 171.32 1025.17 183.23 1025.67 172.07 1026.17 180.13 1026.22 178.24 1026.47 194.67 1026.87 194.67 1027.12 178.24 1026.67 180.25 1027.17 173.47 1027.67 183.40 1028.17 175.01 1028.67 175.34 1029.17 183.61 1029.67 174.65 1030.17 185.53 1030.67 177.23 1031.17 187.56 1031.67 177.48 1032.17 187.34 1032.67 175.09 1033.17 183.29 1033.67 176.93 1034.17 176.70 1034.67 180.72 1035.17 180.72 1035.67 177.84 1036.17 181.67 1036.22 179.17 1036.47 209.67 1036.87 209.67 1037.12 179.17 1036.67 174.88 1037.17 181.47 1037.67 174.75 1038.17 174.75 1037.88 179.17 1038.13 168.00 1038.53 168.00 1038.78 179.17 1038.67 174.75 1039.17 183.68 1039.67 174.87 1040.17 180.83 1040.67 176.75 1041.17 188.22 1041.67 175.35 1042.17 200.33 1042.67 175.48 1042.55 187.05 1042.80 203.67 1043.20 203.67 1043.45 187.05 1043.17 199.08 1043.67 174.01 1044.17 196.21 1044.67 174.43 1045.17 195.64 1045.67 172.46 1046.17 190.74 1046.67 172.78 1047.17 181.66 1047.67 172.11 1048.17 186.74 1048.67 175.06 1049.17 189.80 1049.67 175.31 1050.17 185.99 1050.67 184.33 1051.17 182.67 1051.67 173.19 1052.17 182.33 1052.67 172.20 1053.17 172.10 1053.67 172.00 1053.72 176.67 1053.97 155.00 1054.37 155.00 1054.62 176.67 1054.17 180.22 1054.67 172.14 1055.17 172.04 1055.67 180.91 1056.17 174.05 1056.67 180.09 1057.17 172.70 1057.67 180.45 1058.17 174.03 1058.67 184.00 1059.17 174.40 1059.67 185.36 1060.17 172.89 1060.67 185.17 1061.17 184.42 1061.67 167.99 1062.17 182.41 1062.67 170.81 1063.17 170.06 1063.67 180.98 1064.17 170.24 1064.67 183.65 1065.17 171.97 1064.88 179.40 1065.13 194.67 1065.53 194.67 1065.78 179.40 1065.67 184.72 1066.17 185.87 1066.67 187.01 1067.17 188.16 1067.67 188.76 1068.17 175.99 1068.67 187.46 1069.17 173.03 1069.67 171.41 1070.17 189.03 1070.67 169.89 1071.17 185.84 1071.67 169.99 1072.17 187.79 1072.67 187.37 1073.17 170.15 1073.67 170.34 1074.17 170.53 1074.67 188.96 1075.17 174.21 1075.67 189.93 1076.17 172.80 1076.67 187.57 1077.17 176.74 1077.67 190.07 1078.17 190.07 1078.67 190.08 1079.17 190.08 1079.67 188.10 1080.17 186.12 1080.67 184.15 1081.17 169.17 1081.67 177.55 1082.17 176.92 1082.67 168.32 1083.17 177.36 1083.67 176.64 1084.17 175.93 1084.67 168.61 1085.17 173.97 1085.67 168.12 1086.17 172.65 1086.67 168.61 1087.17 174.49 1087.67 167.87 1088.17 174.20 1088.67 166.85 1089.17 173.76 1089.67 166.70 1090.17 173.86 1090.67 164.89 1091.17 163.46 1091.67 177.81 1092.17 161.41 1092.67 182.99 1092.55 170.11 1092.80 185.83 1093.20 185.83 1093.45 170.11 1093.17 159.22 1093.67 173.11 1094.17 160.75 1094.67 160.22 1095.17 159.79 1095.67 159.58 1096.17 159.36 1096.67 175.90 1097.17 159.23 1097.67 159.25 1098.17 176.45 1098.67 162.25 1099.17 170.75 1099.67 163.37 1100.17 171.12 1100.67 164.31 1101.17 177.46 1101.67 160.02 1102.17 160.17 1102.67 176.65 1103.17 158.80 1103.67 176.13 1104.17 159.70 1104.67 172.53 1105.17 163.57 1105.67 175.45 1106.17 157.87 1106.67 172.20 1107.17 160.58 1107.67 177.44 1108.17 159.22 1108.67 177.04 1109.17 176.87 1109.67 161.32 1110.17 171.63 1110.67 155.22 1111.17 170.90 1111.67 169.83 1112.17 168.88 1112.67 149.61 1112.55 160.53 1112.80 139.67 1113.20 139.67 1113.45 160.53 1113.17 168.88 1113.67 149.28 1114.17 149.14 1114.67 168.83 1115.17 168.13 1115.67 151.17 1116.17 167.25 1116.67 154.97 1117.17 171.06 1117.67 162.61 1118.17 164.80 1118.67 165.99 1119.17 166.67 1119.67 177.76 1120.17 164.21 1120.67 183.53 1121.17 183.80 1121.67 165.95 1122.17 184.35 1122.67 184.46 1123.17 168.63 1123.67 169.31 1124.17 182.78 1124.67 168.63 1125.17 182.04 1125.67 181.68 1126.17 164.82 1126.67 179.52 1127.17 167.26 1127.67 181.03 1128.17 162.95 1128.67 176.51 1129.17 165.97 1129.67 181.83 1130.17 168.18 1130.67 174.86 1131.17 161.33 1131.67 182.01 1132.17 163.94 1132.67 164.23 1133.17 181.73 1133.67 163.75 1134.17 180.69 1134.67 166.30 1135.17 166.84 1135.67 178.53 1136.17 165.58 1136.67 180.96 1137.17 181.21 1137.67 167.70 1138.17 180.61 1138.67 180.56 1139.17 163.87 1139.67 176.83 1140.17 176.04 1140.67 173.87 1141.17 161.82 1141.67 170.07 1142.17 161.63 1142.67 170.87 1143.17 161.34 1143.67 175.03 1144.17 163.08 1144.67 175.90 1145.17 161.44 1145.67 173.11 1146.17 165.49 1146.67 176.08 1147.17 176.25 1147.67 164.41 1148.17 176.08 1148.67 177.18 1149.17 163.23 1149.67 181.36 1150.17 164.91 1150.67 180.28 1151.17 162.22 1151.67 176.91 1152.17 176.80 1152.67 176.87 1153.17 170.25 1153.67 180.26 1154.17 180.49 1154.67 167.09 1155.17 183.44 1155.67 182.77 1156.17 168.98 1156.67 179.63 1157.17 168.04 1157.67 178.42 1158.17 177.71 1158.67 177.00 1159.17 165.00 1159.67 176.42 1160.17 166.80 1160.67 175.23 1161.17 168.02 1161.67 168.42 1162.17 168.81 1162.67 168.94 1163.17 181.25 1163.67 166.49 1164.17 173.56 1164.67 163.83 1165.17 163.70 1165.67 163.46 1166.17 175.23 1166.67 176.10 1167.17 164.18 1167.67 180.29 1168.17 180.32 1168.67 162.01 1168.72 172.92 1168.97 229.17 1169.37 229.17 1169.62 172.92 1169.17 183.66 1169.67 162.43 1170.17 178.82 1170.67 168.18 1171.17 182.45 1171.67 167.41 1172.17 182.65 1172.67 164.32 1173.17 183.61 1173.67 164.46 1174.17 179.92 1174.67 169.93 1175.17 185.44 1175.67 168.99 1176.17 179.42 1176.67 163.55 1177.17 177.39 1177.67 176.23 1178.17 176.25 1178.67 164.01 1179.17 175.72 1179.67 168.30 1180.17 176.80 1180.67 164.32 1181.17 164.07 1181.67 163.82 1182.17 175.93 1182.67 163.52 1183.17 171.80 1183.67 163.09 1184.17 174.44 1184.67 162.54 1185.17 162.28 1185.67 170.30 1186.17 165.35 1186.67 172.64 1187.17 161.27 1187.67 172.60 1188.17 160.39 1188.67 169.76 1189.17 161.92 1189.67 171.59 1190.17 171.58 1190.67 171.82 1191.17 172.06 1191.67 172.31 1192.17 163.25 1192.67 171.76 1193.17 159.45 1193.67 174.20 1194.17 163.20 1194.67 176.55 1195.17 159.58 1195.67 174.06 1196.17 162.09 1196.67 177.90 1197.17 166.88 1197.67 179.34 1198.17 171.02 1198.67 173.37" fill="none" stroke="#0000ff" stroke-width="1.9" stroke-linejoin="round" stroke-linecap="round"/></g>
<path d="M217.56 333.25v-11.6M217.56 29.50v11.6M341.33 333.25v-11.6M341.33 29.50v11.6M465.09 333.25v-11.6M465.09 29.50v11.6M588.85 333.25v-11.6M588.85 29.50v11.6M712.61 333.25v-11.6M712.61 29.50v11.6M836.38 333.25v-11.6M836.38 29.50v11.6M960.14 333.25v-11.6M960.14 29.50v11.6M1083.90 333.25v-11.6M1083.90 29.50v11.6M93.80 311.31h11.6M1199.00 311.31h-11.6M93.80 267.94h11.6M1199.00 267.94h-11.6M93.80 224.57h11.6M1199.00 224.57h-11.6M93.80 181.20h11.6M1199.00 181.20h-11.6M93.80 137.83h11.6M1199.00 137.83h-11.6M93.80 94.46h11.6M1199.00 94.46h-11.6M93.80 51.09h11.6M1199.00 51.09h-11.6" stroke="#0d0d0d" stroke-width="1.5" fill="none"/>
<rect x="93.80" y="29.50" width="1105.20" height="303.75" fill="none" stroke="#111" stroke-width="1.6"/>
<circle cx="211.0" cy="105.3" r="5.7" fill="#00ff00"/>
<circle cx="366.3" cy="105.3" r="5.7" fill="#00ff00"/>
<circle cx="464.5" cy="105.3" r="5.7" fill="#00ff00"/>
<circle cx="96.3" cy="257.1" r="5.7" fill="#ff0000"/>
<circle cx="213.0" cy="257.1" r="5.7" fill="#ff0000"/>
<circle cx="445.0" cy="257.1" r="5.7" fill="#ff0000"/>
<circle cx="474.5" cy="257.1" r="5.7" fill="#ff0000"/>
<text x="93.80" y="361.55" text-anchor="middle" font-size="20" letter-spacing="0.45">0</text>
<text x="217.56" y="361.55" text-anchor="middle" font-size="20" letter-spacing="0.45">0.5</text>
<text x="341.33" y="361.55" text-anchor="middle" font-size="20" letter-spacing="0.45">1</text>
<text x="465.09" y="361.55" text-anchor="middle" font-size="20" letter-spacing="0.45">1.5</text>
<text x="588.85" y="361.55" text-anchor="middle" font-size="20" letter-spacing="0.45">2</text>
<text x="712.61" y="361.55" text-anchor="middle" font-size="20" letter-spacing="0.45">2.5</text>
<text x="836.38" y="361.55" text-anchor="middle" font-size="20" letter-spacing="0.45">3</text>
<text x="960.14" y="361.55" text-anchor="middle" font-size="20" letter-spacing="0.45">3.5</text>
<text x="1083.90" y="361.55" text-anchor="middle" font-size="20" letter-spacing="0.45">4</text>
<text x="83.6" y="318.51" text-anchor="end" font-size="20" letter-spacing="0.45">0.994</text>
<text x="83.6" y="275.14" text-anchor="end" font-size="20" letter-spacing="0.45">0.996</text>
<text x="83.6" y="231.77" text-anchor="end" font-size="20" letter-spacing="0.45">0.998</text>
<text x="83.6" y="188.40" text-anchor="end" font-size="20" letter-spacing="0.45">1</text>
<text x="83.6" y="145.03" text-anchor="end" font-size="20" letter-spacing="0.45">1.002</text>
<text x="83.6" y="101.66" text-anchor="end" font-size="20" letter-spacing="0.45">1.004</text>
<text x="83.6" y="58.29" text-anchor="end" font-size="20" letter-spacing="0.45">1.006</text>
<text x="1147.6" y="399.25" font-size="27" font-family='"Liberation Serif", serif' dy="1.5">×</text>
<text x="1163.6" y="397.85" font-size="20" letter-spacing="0.3">10</text>
<text x="1189" y="389.25" font-size="16">4</text>
<text x="647.1" y="396.45" text-anchor="middle" font-size="27">Time [min]</text>
<text transform="translate(19.1 179.88) rotate(-90)" text-anchor="middle" font-size="27" letter-spacing="0.05">Price ratio (USDT/DAI)</text>
<text x="646.8" y="20.10" text-anchor="middle" font-size="27" letter-spacing="0.09">Symmetric Trading Algorithm (STA)</text>
<path d="M217.56 451.70V755.45M341.33 451.70V755.45M465.09 451.70V755.45M588.85 451.70V755.45M712.61 451.70V755.45M836.38 451.70V755.45M960.14 451.70V755.45M1083.90 451.70V755.45M93.80 733.51H1199.00M93.80 690.14H1199.00M93.80 646.77H1199.00M93.80 603.40H1199.00M93.80 560.03H1199.00M93.80 516.66H1199.00M93.80 473.29H1199.00" stroke="#dedede" stroke-width="1.3" fill="none"/>
<g clip-path="url(#c422)"><polyline points="93.67 670.47 94.17 671.60 94.67 653.73 95.17 675.89 95.67 654.71 96.17 654.51 96.67 677.39 97.17 656.82 97.67 679.43 98.17 680.10 97.88 665.87 98.13 646.37 98.53 646.37 98.78 665.87 98.67 680.76 99.17 655.03 99.67 682.10 100.17 653.21 100.67 686.08 101.17 663.07 101.67 685.79 102.17 672.54 102.67 692.30 102.55 687.12 102.80 701.87 103.20 701.87 103.45 687.12 103.17 677.61 103.67 678.27 104.17 677.28 104.67 676.29 105.17 695.29 105.67 675.02 106.17 691.50 106.67 679.10 107.17 688.06 107.67 687.56 108.17 672.28 108.67 671.78 109.17 685.68 109.67 670.54 110.17 687.66 110.67 668.89 111.17 683.31 111.67 666.93 112.17 689.61 112.67 670.55 113.17 687.25 113.67 666.19 114.17 690.23 114.67 666.70 115.17 690.05 115.67 673.91 116.17 673.13 116.67 679.94 117.17 666.25 117.67 665.33 118.17 680.73 118.67 679.40 119.17 658.88 119.67 676.14 120.17 654.76 120.67 671.83 121.17 654.51 121.67 670.13 122.17 668.80 122.67 650.32 123.17 649.13 123.67 669.08 124.17 669.07 124.67 669.06 125.17 642.21 125.67 659.53 126.17 650.18 126.67 649.98 127.17 662.36 127.67 643.30 128.17 642.63 128.67 659.12 129.17 646.29 129.67 662.02 130.17 643.87 130.67 661.35 131.17 644.29 131.67 659.84 132.17 659.17 132.67 636.35 133.17 656.06 133.67 633.53 134.17 652.36 134.67 631.24 135.17 630.38 135.67 630.77 136.17 652.89 136.67 630.60 137.17 661.22 137.67 662.77 138.17 642.50 138.67 659.96 139.17 639.38 139.67 654.36 140.17 637.61 140.67 654.97 141.17 636.80 141.67 635.31 142.17 634.82 142.67 655.33 143.17 655.93 143.67 656.52 144.17 642.01 144.67 642.49 145.17 659.64 145.67 640.71 146.17 664.85 146.67 648.22 147.17 649.35 147.67 667.91 148.17 644.27 148.67 665.05 148.38 656.70 148.63 701.87 149.03 701.87 149.28 656.70 149.17 646.91 149.67 668.71 150.17 639.33 150.67 667.20 151.17 640.89 151.67 661.88 152.17 627.02 152.67 655.62 153.17 653.13 152.88 633.87 153.13 602.70 153.53 602.70 153.78 633.87 153.67 618.88 154.17 618.77 154.67 642.68 155.17 618.29 155.67 617.71 156.17 617.13 156.67 616.54 157.17 635.58 157.67 613.29 158.17 630.37 158.67 629.44 159.17 617.95 159.67 633.48 160.17 608.55 159.88 619.99 160.13 602.70 160.53 602.70 160.78 619.99 160.67 631.02 161.17 609.53 161.67 625.69 162.17 625.40 162.67 607.60 163.17 623.60 163.67 610.56 164.17 626.98 164.67 626.00 165.17 606.05 165.67 624.99 166.17 624.33 166.67 605.55 167.17 620.70 167.67 607.40 168.17 618.60 168.67 618.56 169.17 604.81 169.67 622.40 170.17 605.73 170.67 625.05 171.17 605.71 171.67 627.16 172.17 613.67 172.67 630.47 173.17 633.68 173.67 625.63 174.17 642.46 174.67 623.41 175.17 624.24 175.67 645.75 175.38 635.20 175.63 656.37 176.03 656.37 176.28 635.20 176.17 645.95 176.67 645.32 177.17 644.68 177.67 624.29 178.17 641.57 178.67 641.18 179.17 624.55 179.67 637.91 180.17 637.67 180.67 637.43 181.17 625.12 181.67 636.63 182.17 636.30 182.67 619.00 183.17 640.34 183.67 620.40 184.17 639.81 184.67 625.03 185.17 649.16 185.67 649.56 186.17 616.46 186.67 643.69 187.17 643.13 187.67 624.61 188.17 639.13 188.67 614.54 189.17 653.40 189.67 620.65 190.17 646.74 190.67 618.79 191.17 648.57 191.67 649.51 192.17 630.61 192.67 631.19 193.17 653.62 193.67 627.14 194.17 652.22 194.67 636.62 195.17 657.04 195.67 658.36 196.17 631.60 196.22 646.37 196.47 686.37 196.87 686.37 197.12 646.37 196.67 662.52 197.17 632.86 197.67 633.86 198.17 634.86 198.67 663.52 199.17 631.44 199.67 629.09 199.55 644.49 199.80 732.70 200.20 732.70 200.45 644.49 200.17 626.66 200.67 659.76 201.17 624.07 201.67 622.21 202.17 643.83 202.67 615.51 203.17 640.26 203.67 613.57 204.17 643.58 204.67 609.19 205.17 642.38 205.67 609.03 205.72 623.76 205.97 664.20 206.37 664.20 206.62 623.76 206.17 640.57 206.67 608.91 207.17 640.39 207.67 610.93 208.17 631.18 208.67 614.87 209.17 634.07 209.67 634.59 210.17 635.11 209.75 622.91 210.00 520.20 210.40 520.20 210.65 622.91 210.67 604.13 211.17 603.40 210.85 622.52 211.10 464.20 211.50 464.20 211.75 622.52 211.67 628.47 212.17 628.44 212.67 600.87 213.17 644.06 213.22 622.78 213.47 691.37 213.87 691.37 214.12 622.78 213.67 611.05 214.17 636.09 214.67 603.73 215.17 646.79 215.67 610.95 216.17 612.52 215.75 627.85 216.00 574.70 216.40 574.70 216.65 627.85 216.67 614.78 217.17 643.48 217.05 629.62 217.30 673.03 217.70 673.03 217.95 629.62 217.67 616.07 218.17 644.92 218.67 613.60 219.17 641.23 219.67 617.57 220.17 643.30 220.67 623.07 221.17 623.74 221.67 624.42 222.17 642.20 222.67 641.86 223.17 617.91 223.67 639.10 224.17 609.55 224.67 639.88 225.17 616.17 225.67 636.07 226.17 611.03 226.67 635.71 227.17 609.93 227.67 609.68 228.17 609.43 228.67 627.49 229.17 610.14 229.67 630.95 230.17 630.52 230.67 630.19 231.17 614.79 231.67 626.46 232.17 626.13 232.67 613.77 233.17 614.10 233.67 626.83 234.17 609.15 234.67 632.30 235.17 609.93 235.67 630.77 236.17 610.03 236.67 622.69 237.17 606.42 237.05 616.87 237.30 593.87 237.70 593.87 237.95 616.87 237.67 626.38 238.17 604.94 238.67 603.94 239.17 621.92 239.67 610.00 240.17 622.24 240.67 602.26 241.17 624.33 240.88 613.24 241.13 585.20 241.53 585.20 241.78 613.24 241.67 602.93 242.17 624.52 242.67 624.93 243.17 604.49 243.67 604.56 244.17 617.62 244.67 607.93 245.17 623.19 244.88 614.28 245.13 680.20 245.53 680.20 245.78 614.28 245.67 602.69 246.17 602.69 246.67 624.28 247.17 604.47 247.67 625.98 248.17 626.31 248.67 610.11 249.17 626.37 249.67 615.48 250.17 627.42 250.67 613.56 251.17 628.44 251.22 619.70 251.47 645.53 251.87 645.53 252.12 619.70 251.67 610.30 252.17 628.31 252.67 628.26 253.17 607.19 253.67 606.19 254.17 605.20 254.67 621.79 255.17 606.79 255.67 606.74 256.17 624.70 256.67 624.09 257.17 606.12 257.67 605.66 258.17 605.19 258.67 625.81 259.17 604.17 259.67 625.87 260.17 601.52 260.67 620.94 261.17 599.40 261.67 621.23 262.17 598.68 262.67 597.45 263.17 596.22 263.67 618.82 264.17 600.02 264.67 599.60 265.17 618.16 265.67 595.23 265.72 604.70 265.97 634.87 266.37 634.87 266.62 604.70 266.17 615.92 266.67 595.06 267.17 618.15 267.67 617.86 268.17 617.58 268.67 617.29 269.17 585.21 269.67 614.96 270.17 585.84 270.67 614.87 271.17 590.57 271.67 609.67 272.17 588.94 271.75 600.26 272.00 559.20 272.40 559.20 272.65 600.26 272.67 611.71 273.17 594.60 273.67 612.47 274.17 612.48 274.67 595.58 275.17 611.49 275.67 596.10 276.17 609.96 276.67 610.11 277.17 591.98 277.67 606.47 278.17 589.71 278.67 607.15 279.17 588.14 279.67 611.67 280.17 588.25 280.67 613.02 281.17 590.83 281.67 611.88 281.25 600.62 281.50 568.20 281.90 568.20 282.15 600.62 282.17 591.29 282.67 616.07 283.17 592.40 283.67 619.78 284.17 590.48 284.67 590.67 285.17 590.85 285.67 591.04 286.17 613.02 286.67 589.02 287.17 609.81 287.67 609.49 288.17 589.20 288.67 616.39 289.17 588.65 289.15 601.55 289.40 560.20 289.80 560.20 290.05 601.55 289.67 613.15 290.17 608.28 290.67 592.53 291.17 609.54 290.88 598.03 291.13 559.20 291.53 559.20 291.78 598.03 291.67 592.94 292.17 608.71 292.67 588.87 293.17 600.75 293.67 591.36 294.17 605.54 294.67 605.52 295.17 586.15 295.67 601.39 296.17 588.60 295.88 596.53 296.13 628.03 296.53 628.03 296.78 596.53 296.67 603.39 297.17 585.68 297.67 602.98 298.17 588.05 298.67 606.69 299.17 606.65 299.67 580.89 300.17 602.35 300.67 585.18 301.17 600.27 301.67 584.74 301.55 592.91 301.80 625.53 302.20 625.53 302.45 592.91 302.17 585.50 302.67 586.27 303.17 587.03 302.88 594.52 303.13 570.53 303.53 570.53 303.78 594.52 303.67 587.80 304.17 605.97 304.67 588.50 305.17 607.02 305.67 589.19 306.17 589.43 306.67 607.67 307.17 586.41 307.67 599.99 308.17 585.78 308.67 604.10 309.17 585.09 309.67 605.40 310.17 591.03 310.67 606.55 310.72 595.38 310.97 568.03 311.37 568.03 311.62 595.38 311.17 584.52 311.67 602.56 312.17 584.21 312.67 605.78 313.17 587.99 313.67 603.89 314.17 603.74 314.67 581.97 315.17 581.24 315.67 580.50 316.17 603.34 316.67 603.27 317.17 579.61 317.67 597.61 318.17 597.85 318.67 583.67 319.17 605.39 319.67 605.40 320.17 583.86 320.67 604.18 321.17 588.34 321.67 602.84 322.17 583.65 322.67 604.82 323.17 604.69 323.67 586.18 324.17 585.85 324.67 603.45 325.17 586.85 325.67 600.26 326.17 600.31 326.22 593.58 326.47 610.87 326.87 610.87 327.12 593.58 326.67 600.36 327.17 580.98 327.67 606.62 328.17 581.37 328.67 580.92 329.17 599.87 329.67 584.31 330.17 598.54 330.67 584.14 331.17 604.03 331.67 578.94 332.17 580.09 332.67 605.85 333.17 582.71 333.67 605.72 334.17 587.61 334.67 612.79 335.17 594.58 334.88 600.95 335.13 561.87 335.53 561.87 335.78 600.95 335.67 595.45 335.38 602.02 335.63 669.37 336.03 669.37 336.28 602.02 336.17 619.22 336.67 591.32 337.17 618.79 337.67 586.23 338.17 586.69 338.67 586.91 339.17 616.68 339.67 588.28 340.17 611.91 340.67 588.40 341.17 612.10 341.67 591.95 342.17 604.58 342.67 591.99 343.17 606.65 343.67 587.64 344.17 607.98 344.67 587.22 345.17 604.89 345.67 586.56 346.17 609.57 346.67 587.17 347.17 603.71 347.67 588.62 348.17 609.47 347.88 602.02 348.13 577.20 348.53 577.20 348.78 602.02 348.67 611.11 349.17 588.04 349.67 624.93 350.17 594.51 350.67 595.01 351.17 595.09 351.22 610.33 351.47 635.03 351.87 635.03 352.12 610.33 351.67 627.50 352.17 589.12 352.67 626.90 353.17 589.55 353.67 618.60 354.17 614.83 354.67 587.87 355.17 607.30 355.67 588.79 356.17 621.05 356.67 600.46 357.17 620.28 357.67 622.65 358.17 600.72 358.67 634.37 358.72 610.03 358.97 573.03 359.37 573.03 359.62 610.03 359.17 585.02 359.67 628.19 360.17 599.55 360.67 633.88 361.17 600.75 360.88 609.70 361.13 638.53 361.53 638.53 361.78 609.70 361.67 621.49 362.17 587.47 362.67 629.94 362.38 603.03 362.63 561.87 363.03 561.87 363.28 603.03 363.17 623.40 363.67 616.86 364.17 610.32 364.67 582.10 365.17 582.54 365.67 604.48 366.17 586.53 365.88 599.09 366.13 528.87 366.53 528.87 366.78 599.09 366.67 586.99 367.17 612.20 367.05 600.24 367.30 621.37 367.70 621.37 367.95 600.24 367.67 584.61 368.17 605.56 368.67 606.09 369.17 586.20 369.67 612.60 370.17 589.36 370.67 589.54 371.17 621.18 371.67 585.92 372.17 619.61 372.67 589.20 373.17 621.45 373.67 592.09 374.17 621.58 374.67 601.78 375.17 626.51 375.67 595.60 376.17 621.87 376.22 610.95 376.47 640.53 376.87 640.53 377.12 610.95 376.67 595.37 377.17 594.79 377.67 594.10 378.17 593.19 378.67 617.08 379.17 596.69 379.67 611.40 380.17 595.55 380.67 612.20 381.17 595.10 380.88 599.70 381.13 565.53 381.53 565.53 381.78 599.70 381.67 608.29 382.17 589.10 382.67 610.53 383.17 589.86 383.67 609.19 383.72 599.05 383.97 619.70 384.37 619.70 384.62 599.05 384.17 591.60 384.67 609.54 385.17 588.51 385.67 609.53 386.17 609.36 386.22 597.91 386.47 572.70 386.87 572.70 387.12 597.91 386.67 609.19 387.17 592.40 387.67 604.42 388.17 590.34 388.67 603.09 389.17 590.64 389.67 608.42 389.55 598.58 389.80 617.20 390.20 617.20 390.45 598.58 390.17 608.69 390.67 587.08 391.17 610.73 391.67 594.46 392.17 594.89 392.67 611.34 393.17 589.19 393.67 605.97 394.17 591.35 394.67 591.46 395.17 591.58 395.67 612.30 396.17 596.84 396.67 596.93 397.17 606.69 397.67 589.39 398.17 605.18 398.67 604.75 399.17 587.61 399.67 603.88 400.17 581.93 400.67 609.75 401.17 608.90 401.67 608.05 402.17 581.96 402.05 594.45 402.30 570.53 402.70 570.53 402.95 594.45 402.67 599.17 403.17 581.88 403.67 605.40 404.17 582.10 404.67 606.18 405.17 587.20 405.67 603.39 406.17 603.60 406.67 582.21 407.17 599.38 407.67 582.38 408.17 606.01 408.67 605.50 408.72 591.78 408.97 621.70 409.37 621.70 409.62 591.78 409.17 580.86 409.67 604.54 410.17 575.19 410.67 596.65 411.17 570.93 411.67 601.98 412.17 568.80 412.67 591.73 413.17 592.24 413.67 568.81 414.17 602.67 414.67 601.19 415.17 573.51 415.67 595.56 416.17 575.57 416.67 574.73 417.17 594.07 417.67 594.25 418.17 571.44 418.67 570.82 419.17 591.00 419.67 571.41 420.17 595.80 420.67 574.42 421.17 574.55 421.67 595.38 422.17 572.34 422.67 597.54 423.17 575.37 422.88 584.53 423.13 608.53 423.53 608.53 423.78 584.53 423.67 590.60 424.17 572.41 424.67 595.66 425.17 575.05 425.67 592.37 426.17 581.25 426.67 596.90 427.17 597.84 427.05 588.26 427.30 563.87 427.70 563.87 427.95 588.26 427.67 575.43 428.17 602.21 428.67 579.28 429.17 601.23 429.67 576.67 430.17 576.89 430.67 599.80 431.17 580.50 431.67 580.42 432.17 580.71 432.67 601.57 433.17 577.72 433.67 578.14 434.17 606.12 433.88 593.48 434.13 570.53 434.53 570.53 434.78 593.48 434.67 588.99 435.17 606.51 435.67 579.39 436.17 600.41 436.67 581.48 437.17 607.98 437.67 581.52 438.17 582.19 438.67 607.54 439.17 584.06 439.67 616.20 440.17 595.09 440.67 620.50 441.17 621.32 441.22 604.03 441.47 638.87 441.87 638.87 442.12 604.03 441.67 585.53 442.17 617.44 442.67 587.56 443.17 613.19 443.67 596.94 444.17 621.57 444.67 621.96 445.17 595.59 445.05 606.41 445.30 690.87 445.70 690.87 445.95 606.41 445.67 623.15 446.17 592.22 446.67 624.82 447.17 591.86 447.67 622.83 448.17 620.35 448.67 597.85 449.17 615.83 449.67 594.04 450.17 613.17 450.67 590.41 451.17 618.94 451.67 622.12 452.17 590.92 452.67 630.65 453.17 635.62 453.67 600.33 454.17 629.70 454.67 591.83 455.17 644.80 455.05 617.28 455.30 559.20 455.70 559.20 455.95 617.28 455.05 617.28 455.30 690.87 455.70 690.87 455.95 617.28 455.67 644.30 456.17 601.08 456.67 643.35 457.17 590.99 457.67 641.59 458.17 590.99 458.67 635.36 459.17 592.38 459.05 614.33 459.30 585.53 459.70 585.53 459.95 614.33 459.67 635.08 460.17 599.64 460.05 614.93 460.30 680.20 460.70 680.20 460.95 614.93 460.67 635.42 461.17 601.64 461.67 634.07 462.17 634.07 462.67 596.13 463.17 630.11 463.67 595.19 463.72 608.87 463.97 518.03 464.37 518.03 464.62 608.87 464.17 619.73 464.67 623.32 464.38 612.87 464.63 518.03 465.03 518.03 465.28 612.87 465.17 626.91 465.67 601.06 466.17 601.33 466.67 630.36 467.17 609.01 467.67 609.22 468.17 633.24 467.88 618.03 468.13 530.53 468.53 530.53 468.78 618.03 468.67 597.72 469.17 643.35 469.67 596.76 470.17 647.13 470.67 594.85 471.17 652.56 470.88 622.07 471.13 565.53 471.53 565.53 471.78 622.07 471.67 589.85 472.17 655.27 472.67 586.05 473.17 646.82 473.67 596.89 474.17 655.88 474.67 588.02 474.55 624.42 474.80 690.87 475.20 690.87 475.45 624.42 475.17 659.17 475.67 598.84 476.17 657.20 476.67 595.19 477.17 639.94 477.67 600.22 478.17 650.77 478.67 609.18 479.17 611.19 479.67 641.22 480.17 640.79 480.67 618.06 480.72 628.82 480.97 675.53 481.37 675.53 481.62 628.82 481.17 641.27 481.67 615.21 482.17 614.86 482.67 614.52 483.17 631.93 483.67 612.13 484.17 636.15 484.67 617.08 484.55 619.67 484.80 653.87 485.20 653.87 485.45 619.67 485.17 633.81 485.67 607.59 486.17 631.28 486.67 599.97 487.17 626.06 487.67 597.96 488.17 623.64 488.67 623.13 489.17 622.62 489.67 588.81 490.17 589.82 490.67 619.74 491.17 597.41 491.67 598.91 492.17 600.42 492.67 622.09 493.17 599.76 493.67 624.31 494.17 599.36 494.22 610.50 494.47 588.03 494.87 588.03 495.12 610.50 494.67 623.69 495.17 597.07 495.67 623.25 496.17 596.88 496.67 618.27 497.17 598.54 497.67 620.35 498.17 603.66 498.22 609.50 498.47 574.70 498.87 574.70 499.12 609.50 498.67 603.68 499.17 621.12 499.67 602.66 500.17 617.08 500.67 601.67 501.17 620.13 501.67 603.21 502.17 603.08 502.67 619.61 503.17 599.95 503.67 598.09 504.17 595.36 504.67 619.52 505.17 586.52 504.88 602.20 505.13 578.03 505.53 578.03 505.78 602.20 505.67 620.88 506.17 594.60 506.67 595.97 506.55 603.70 506.80 577.20 507.20 577.20 507.45 603.70 507.17 615.46 507.67 592.75 508.17 611.73 508.67 612.59 509.17 600.96 509.67 620.88 510.17 601.47 510.67 601.61 511.17 620.15 511.22 609.28 511.47 588.03 511.87 588.03 512.12 609.28 511.22 609.28 511.47 634.20 511.87 634.20 512.12 609.28 511.67 599.86 512.17 619.93 512.67 603.06 513.17 603.19 513.67 619.85 514.17 602.99 514.67 602.89 515.17 617.24 515.67 603.15 516.17 620.71 516.67 605.01 517.17 619.16 517.67 598.17 518.17 618.40 518.67 599.30 519.17 620.53 519.67 595.82 520.17 620.95 520.67 602.48 521.17 621.43 521.67 598.27 522.17 598.87 522.67 615.76 523.17 599.56 523.67 599.89 524.17 623.64 524.67 602.58 525.17 624.44 525.67 625.10 526.17 625.19 526.67 625.00 527.17 606.03 527.67 624.95 528.17 600.46 528.67 624.72 529.17 605.29 529.67 622.39 530.17 601.37 530.67 601.63 531.17 623.82 531.67 624.53 532.17 625.23 532.67 603.59 533.17 603.86 533.67 604.13 534.17 620.65 534.67 612.10 535.17 626.47 535.67 611.95 536.17 629.05 536.67 605.62 537.17 628.39 537.67 628.26 538.17 608.83 538.22 618.65 538.47 636.37 538.87 636.37 539.12 618.65 538.67 631.18 539.17 630.99 539.67 606.20 540.17 626.54 540.67 611.28 541.17 627.95 541.67 607.19 542.17 633.47 542.67 607.46 543.17 635.67 543.22 622.51 543.47 649.70 543.87 649.70 544.12 622.51 543.67 610.40 544.17 610.37 544.67 628.78 545.17 613.23 545.67 626.08 546.17 617.09 546.67 634.33 547.17 608.44 547.67 631.38 547.38 622.02 547.63 647.20 548.03 647.20 548.28 622.02 548.17 631.32 548.67 609.05 549.17 626.00 549.67 612.65 550.17 631.28 550.67 610.49 551.17 608.95 551.67 607.41 552.17 630.10 552.67 603.88 553.17 604.71 553.67 629.97 554.17 607.63 554.67 630.73 555.17 609.92 555.67 630.27 556.17 607.54 556.67 626.62 557.17 626.14 557.67 605.71 558.17 605.04 558.67 626.85 559.17 611.66 559.67 621.35 560.17 612.13 560.67 627.75 561.17 627.89 561.67 611.86 562.17 612.46 562.67 613.07 563.17 622.00 563.67 613.07 564.17 632.11 564.67 633.85 565.17 612.25 565.67 613.77 566.17 638.61 566.67 611.05 567.17 635.08 567.67 611.47 568.17 613.80 567.88 631.42 568.13 664.20 568.53 664.20 568.78 631.42 568.67 616.13 569.17 646.21 569.67 648.24 570.17 649.65 570.67 625.19 571.17 652.54 571.67 633.98 572.17 635.21 572.67 652.47 573.17 636.08 573.67 646.80 574.17 638.77 574.67 650.99 575.17 651.43 575.67 632.36 576.17 654.48 576.67 634.55 577.17 654.18 577.67 637.51 578.17 658.01 578.67 636.69 579.17 659.11 579.67 639.45 580.17 658.85 580.67 642.52 581.17 655.12 581.67 639.08 582.17 659.66 582.67 639.97 583.17 640.13 583.67 660.00 584.17 646.40 584.67 658.70 585.17 643.34 585.67 659.58 586.17 649.79 586.67 667.69 587.17 670.43 587.67 649.19 588.17 675.99 588.67 647.10 588.38 667.20 588.63 705.53 589.03 705.53 589.28 667.20 589.17 682.19 589.67 685.31 590.17 663.55 590.67 687.63 591.17 659.61 591.67 660.02 592.17 684.12 592.67 664.63 593.17 663.48 593.67 679.59 593.72 668.03 593.97 695.20 594.37 695.20 594.62 668.03 594.17 662.46 594.67 679.40 595.17 659.54 595.67 678.55 596.17 678.54 596.67 678.76 597.17 657.28 597.67 678.30 598.17 653.54 598.67 672.12 599.17 670.08 599.67 668.57 600.17 667.05 600.67 649.35 601.17 662.82 601.67 661.24 602.17 639.45 602.67 659.58 603.17 646.20 603.67 659.63 604.17 638.69 604.67 658.52 605.17 640.21 605.67 653.48 606.17 641.45 606.67 651.96 607.17 637.83 607.67 652.30 608.17 652.97 608.67 653.63 609.17 635.57 609.67 656.19 610.17 638.79 610.67 654.81 611.17 635.09 611.67 657.18 612.17 635.59 612.67 659.49 613.17 637.36 613.67 661.04 614.17 637.46 614.67 634.84 615.17 651.01 615.67 637.40 616.17 655.36 616.67 633.85 617.17 633.50 617.67 658.74 618.17 625.80 618.67 640.35 619.17 616.98 619.67 642.73 620.17 624.32 620.67 633.94 621.17 617.79 621.67 637.70 622.17 622.38 622.67 635.19 623.17 621.04 623.67 620.76 624.17 634.03 624.67 633.90 625.17 614.80 625.67 634.91 626.17 614.97 626.67 634.24 627.17 613.66 627.67 628.65 628.17 611.90 628.67 632.35 629.17 607.32 629.67 632.04 630.17 605.85 630.67 630.19 631.17 608.35 631.67 609.13 632.17 628.56 632.67 628.54 633.17 612.30 633.67 631.11 634.17 612.88 634.67 630.66 635.17 615.25 635.67 634.06 636.17 611.51 636.67 611.53 637.17 630.74 637.67 611.68 638.17 638.17 638.67 638.05 639.17 637.92 639.67 612.32 640.17 612.43 640.67 612.55 641.17 637.42 641.67 612.97 642.17 634.82 642.67 634.73 643.17 614.96 642.88 625.89 643.13 645.03 643.53 645.03 643.78 625.89 643.67 615.19 644.17 634.13 644.67 619.06 645.17 632.89 645.67 632.74 646.17 632.74 646.67 618.28 647.17 631.93 647.67 613.37 648.17 635.97 648.67 616.18 649.17 634.98 649.67 634.48 650.17 613.93 650.67 633.48 651.17 618.47 651.67 626.15 652.17 612.21 652.05 621.26 652.30 645.03 652.70 645.03 652.95 621.26 652.67 626.51 653.17 616.21 653.67 630.55 654.17 611.29 654.67 623.67 655.17 613.06 655.67 624.37 656.17 612.70 656.67 624.74 657.17 609.17 657.67 624.61 658.17 609.23 658.67 622.43 659.17 622.39 659.67 608.62 660.17 618.04 660.67 608.91 661.17 623.87 661.67 607.21 662.17 626.20 662.67 628.20 663.17 609.51 663.67 628.85 664.17 615.09 664.67 615.74 665.17 631.33 665.05 620.83 665.30 645.03 665.70 645.03 665.95 620.83 665.67 613.52 666.17 631.63 666.67 631.17 667.17 615.71 667.67 629.07 668.17 612.51 668.67 611.68 669.17 625.51 669.67 614.02 670.17 628.85 670.67 611.53 671.17 624.26 671.67 614.24 672.17 614.01 672.67 625.85 673.17 625.37 673.67 607.99 674.17 606.59 674.67 627.65 675.17 603.17 675.67 628.89 676.17 605.04 676.67 627.97 677.17 607.44 677.67 628.22 678.17 628.21 678.67 613.28 679.17 613.21 679.22 618.65 679.47 638.53 679.87 638.53 680.12 618.65 679.67 627.90 680.17 609.23 680.67 623.17 681.17 607.38 681.67 622.82 682.17 611.76 682.67 628.35 683.17 610.95 683.67 610.93 684.17 627.10 684.67 607.18 685.17 607.23 685.67 622.40 686.17 607.26 686.67 607.43 687.17 627.64 687.05 619.40 687.30 640.53 687.70 640.53 687.95 619.40 687.67 616.22 688.17 625.34 688.67 617.08 689.17 630.64 689.67 624.30 690.17 628.15 690.67 628.27 691.17 614.65 691.67 634.02 692.17 611.50 692.67 631.66 693.17 609.53 693.67 629.52 694.17 608.24 694.67 608.12 695.17 628.04 695.67 606.37 696.17 620.87 696.67 620.75 697.17 620.62 697.67 620.53 698.17 620.49 698.67 620.45 699.17 607.14 699.67 623.74 700.17 608.33 700.67 608.41 701.17 625.04 701.67 624.95 702.17 605.99 702.67 605.91 703.17 605.83 703.67 626.38 704.17 626.30 704.67 607.28 705.17 622.09 705.67 622.01 706.17 605.29 706.67 605.20 707.17 605.33 707.67 605.45 708.17 625.22 708.67 605.68 709.17 625.50 709.67 607.68 710.17 622.88 710.05 616.03 710.30 643.03 710.70 643.03 710.95 616.03 710.67 606.47 711.17 606.60 711.67 625.78 712.17 607.94 712.67 608.05 713.17 625.59 713.67 607.07 714.17 625.54 714.67 625.54 715.17 606.40 715.67 625.26 715.38 615.80 715.63 647.20 716.03 647.20 716.28 615.80 716.17 608.77 716.67 608.60 717.17 625.86 717.67 605.55 718.17 624.82 718.67 624.82 719.17 606.22 719.67 606.30 719.55 615.76 719.80 647.20 720.20 647.20 720.45 615.76 720.17 606.38 720.67 625.79 721.17 625.79 721.67 625.79 722.17 610.24 722.67 625.39 723.17 609.59 723.67 621.05 724.17 607.23 724.67 625.43 725.17 625.33 725.67 605.60 726.17 605.50 726.67 605.40 727.17 605.40 727.67 619.06 728.17 608.64 728.67 608.65 729.17 625.38 729.67 610.75 730.17 619.07 730.67 606.02 731.17 625.37 731.67 625.45 732.17 605.49 732.67 625.87 733.17 605.73 733.67 624.11 734.17 607.89 734.67 624.13 735.17 624.16 735.67 606.06 736.17 625.52 736.67 611.73 737.17 626.11 737.67 607.33 737.38 615.69 737.63 644.70 738.03 644.70 738.28 615.69 738.17 621.78 738.67 621.81 739.17 607.23 739.67 607.09 740.17 624.93 740.67 620.21 741.17 615.49 741.67 600.97 742.17 610.88 742.67 598.36 742.38 604.51 742.63 590.20 743.03 590.20 743.28 604.51 743.17 610.73 743.67 598.18 744.17 598.06 744.67 609.04 745.17 597.80 745.67 612.70 746.17 598.00 746.67 615.68 747.17 600.29 747.67 618.41 748.17 618.41 748.67 598.81 749.17 617.81 749.67 604.04 750.17 612.52 750.67 612.52 751.17 612.19 751.67 599.22 752.17 599.09 752.67 616.63 753.17 597.57 753.22 606.32 753.47 590.20 753.87 590.20 754.12 606.32 753.67 615.33 754.17 614.66 754.67 597.08 755.17 612.86 755.67 598.11 756.17 598.27 756.67 615.08 757.17 598.88 757.67 617.50 758.17 599.23 758.67 622.26 759.17 604.50 759.67 606.57 760.17 630.14 760.67 611.19 761.17 629.45 761.67 631.55 762.17 615.93 762.67 639.42 763.17 616.36 763.67 636.68 764.17 613.26 764.05 621.03 764.30 651.37 764.70 651.37 764.95 621.03 764.67 635.79 765.17 605.56 765.67 605.54 766.17 605.54 766.67 605.54 767.17 605.54 767.67 626.67 768.17 610.14 768.67 608.92 769.17 615.81 769.67 603.15 770.17 601.71 770.67 617.06 771.17 602.80 771.67 612.49 772.17 612.42 772.67 601.99 773.17 616.04 773.67 615.93 774.17 616.05 774.67 601.32 775.17 613.20 775.67 613.13 776.17 598.63 776.22 607.20 776.47 590.20 776.87 590.20 777.12 607.20 776.67 616.70 777.17 616.87 777.67 601.52 778.17 601.42 778.67 610.93 779.17 598.41 779.67 616.84 780.17 599.47 780.67 600.71 781.17 615.33 781.67 605.43 782.17 617.17 782.67 604.74 783.17 615.26 783.67 614.99 784.17 605.09 784.67 603.93 785.17 610.89 785.67 603.76 786.17 617.17 786.67 598.67 787.17 618.09 787.67 618.21 788.17 598.34 788.67 618.68 789.17 599.75 789.67 620.32 790.17 597.65 790.67 619.44 791.17 619.31 791.67 598.51 792.17 620.82 792.67 604.91 793.17 619.55 793.67 601.72 794.17 617.91 794.67 618.07 795.17 618.24 795.67 599.87 796.17 599.75 796.67 619.57 797.17 597.25 797.67 615.46 798.17 600.29 798.67 615.97 799.17 599.72 799.67 617.16 800.17 596.91 800.67 611.61 801.17 611.36 801.67 596.87 802.17 614.24 802.67 596.93 803.17 614.73 803.67 597.82 804.17 613.82 804.67 596.86 805.17 617.09 805.67 598.27 806.17 617.40 806.67 598.26 807.17 610.75 807.67 610.67 808.17 599.12 808.67 610.04 809.17 597.38 809.67 611.57 810.17 597.94 810.67 611.31 811.17 601.58 811.67 615.54 812.17 599.03 812.67 616.19 813.17 599.36 813.22 607.70 813.47 592.20 813.87 592.20 814.12 607.70 813.67 613.03 814.17 600.17 814.67 600.40 815.17 616.05 815.67 616.25 816.17 616.44 816.67 616.64 817.17 605.13 817.67 617.20 818.17 607.88 818.67 615.41 819.17 605.02 819.67 614.56 820.17 607.81 820.67 615.13 821.17 603.47 821.22 610.28 821.47 643.03 821.87 643.03 822.12 610.28 821.67 617.60 822.17 602.88 822.67 612.62 823.17 607.25 823.67 616.57 824.17 616.66 824.67 617.22 825.17 604.60 825.67 616.78 826.17 604.65 826.67 618.37 827.17 604.52 827.67 604.94 828.17 623.62 828.67 609.64 829.17 611.10 829.67 634.88 830.17 608.40 830.05 622.16 830.30 653.87 830.70 653.87 830.95 622.16 830.67 633.94 831.17 633.88 831.67 607.78 832.17 608.14 832.67 636.95 833.17 610.14 833.67 625.41 834.17 617.05 834.67 627.47 835.17 610.61 835.67 627.70 836.17 627.79 836.67 609.54 837.17 629.51 837.67 609.38 838.17 632.69 838.67 614.65 839.17 614.63 839.67 635.10 840.17 607.51 840.67 609.34 840.38 624.28 840.63 647.20 841.03 647.20 841.28 624.28 841.17 636.93 841.67 617.03 842.17 633.21 842.67 633.79 843.17 619.83 842.88 627.42 843.13 679.70 843.53 679.70 843.78 627.42 843.67 638.08 844.17 637.92 844.67 617.58 845.17 637.00 845.67 636.87 846.17 618.18 846.67 617.94 847.17 637.54 847.67 614.81 848.17 614.56 848.67 636.07 849.17 619.58 849.67 619.41 850.17 636.77 850.67 617.46 851.17 630.07 851.67 629.61 852.17 613.52 852.67 630.95 853.17 615.59 853.67 628.84 854.17 614.56 854.67 634.78 855.17 620.25 855.67 629.32 856.17 612.71 856.67 631.93 856.55 624.40 856.80 651.37 857.20 651.37 857.45 624.40 857.17 613.42 857.67 632.35 858.17 614.79 858.67 634.16 859.17 614.40 859.67 636.15 860.17 613.02 860.67 634.00 861.17 612.59 861.67 612.34 862.17 634.68 862.67 617.83 863.17 629.35 863.67 609.72 864.17 624.73 864.67 605.15 865.17 623.87 865.67 607.90 866.17 607.77 866.67 625.88 867.17 602.94 867.67 603.19 868.17 625.37 868.67 609.55 869.17 609.73 869.67 622.41 870.17 605.39 870.67 622.45 871.17 621.45 871.67 620.45 872.17 620.37 872.67 620.29 873.17 601.37 873.67 601.37 873.72 611.58 873.97 627.20 874.37 627.20 874.62 611.58 874.17 620.37 874.67 606.48 875.17 614.58 875.67 608.42 876.17 621.69 876.67 603.80 877.17 619.62 877.67 619.62 878.17 605.12 878.67 619.45 879.17 602.39 879.67 602.39 880.17 621.34 880.67 602.92 881.17 618.71 881.67 601.02 882.17 617.37 882.67 601.04 883.17 618.75 883.67 618.79 884.17 601.06 884.67 619.53 885.17 619.77 885.67 604.81 886.17 620.63 886.67 620.88 887.17 601.23 887.67 621.01 888.17 607.65 888.67 621.03 889.17 621.16 889.67 603.76 890.17 614.71 890.67 603.06 891.17 616.49 891.67 604.53 892.17 620.02 892.67 620.10 893.17 601.46 893.67 601.46 894.17 621.42 894.67 601.33 894.55 611.14 894.80 597.20 895.20 597.20 895.45 611.14 895.17 616.24 895.67 607.96 896.17 618.51 896.67 604.48 897.17 620.92 897.67 601.94 898.17 621.10 898.67 608.29 899.17 620.81 899.67 604.00 900.17 604.51 900.67 620.50 901.17 608.39 901.67 622.03 902.17 610.25 902.67 619.21 903.17 609.98 903.67 621.40 904.17 614.50 904.67 624.41 905.17 617.02 905.67 627.90 905.38 621.70 905.63 640.53 906.03 640.53 906.28 621.70 906.17 615.07 906.67 615.74 907.17 628.97 907.67 619.93 908.17 626.35 908.67 616.12 909.17 632.39 909.67 615.60 909.55 624.87 909.80 607.20 910.20 607.20 910.45 624.87 910.17 634.08 910.67 618.13 911.17 634.12 911.67 619.79 912.17 633.17 912.67 621.63 913.17 633.77 913.67 624.79 913.72 628.03 913.97 613.87 914.37 613.87 914.62 628.03 914.17 633.65 914.67 626.86 915.17 635.07 915.67 626.27 916.17 634.06 916.67 628.72 917.17 636.16 917.67 636.49 918.17 632.25 918.67 638.47 919.17 638.80 919.67 627.72 920.17 625.23 920.67 635.60 921.17 622.86 921.67 620.89 922.17 623.20 922.67 636.02 923.17 636.71 923.67 637.31 924.17 633.71 924.67 640.41 925.17 632.22 925.67 633.22 926.17 640.01 926.67 635.35 927.17 641.32 927.67 636.90 928.17 637.03 928.67 642.58 929.17 635.26 929.67 635.26 930.17 640.85 930.67 627.68 931.17 637.88 931.67 620.51 932.17 619.86 932.67 635.87 933.17 618.44 933.67 632.65 934.17 632.53 934.67 632.64 935.17 617.09 935.67 635.82 936.17 617.53 936.67 636.60 937.17 636.93 937.67 637.26 938.17 618.71 938.67 638.04 939.17 616.21 939.67 636.21 940.17 625.84 940.67 638.35 941.17 620.89 941.67 617.84 942.17 626.99 942.67 624.64 943.17 611.89 943.67 626.66 944.17 611.85 944.67 627.31 945.17 611.76 945.67 624.50 946.17 610.84 946.67 626.56 947.17 627.11 947.67 612.44 948.17 612.73 948.67 624.23 949.17 615.24 949.22 621.39 949.47 660.20 949.87 660.20 950.12 621.39 949.67 629.99 950.17 613.13 950.67 629.24 951.17 613.95 951.67 631.64 952.17 615.50 952.67 615.35 953.17 615.21 953.67 630.46 954.17 616.28 954.67 625.75 955.17 612.79 955.67 630.97 956.17 630.97 956.67 612.80 957.17 628.27 957.67 613.61 958.17 628.02 958.67 616.03 959.17 626.39 959.67 624.12 960.17 611.15 960.67 609.80 961.17 619.18 961.67 612.10 962.17 619.21 962.67 609.47 963.17 618.04 963.67 612.42 964.17 619.17 964.67 619.00 965.17 608.35 965.67 617.97 966.17 617.78 966.67 617.59 967.17 606.21 967.67 617.23 968.17 608.79 968.67 615.95 969.17 607.86 969.67 607.68 970.17 617.69 970.67 608.38 971.17 608.84 971.67 618.23 972.17 607.04 972.67 607.58 973.17 608.24 973.67 623.54 974.17 607.83 974.67 623.75 975.17 608.45 975.67 624.32 976.17 607.09 976.67 628.23 977.17 628.23 977.67 610.01 978.17 627.53 978.67 614.51 979.17 628.30 979.67 610.01 980.17 624.19 980.67 613.26 981.17 613.26 981.67 625.51 982.17 608.73 982.67 625.52 983.17 608.43 983.67 608.34 984.17 608.21 984.67 622.42 985.17 609.92 985.67 626.08 986.17 611.21 986.67 611.03 987.17 624.42 987.67 606.27 988.17 618.83 988.67 605.83 989.17 622.31 989.67 620.67 990.17 605.85 990.67 617.24 991.17 604.76 991.67 614.22 992.17 606.34 992.67 613.72 993.17 603.76 993.22 608.48 993.47 623.03 993.87 623.03 994.12 608.48 993.67 603.56 994.17 613.22 994.67 604.30 995.17 612.81 995.67 603.11 996.17 603.04 996.67 609.58 997.17 609.58 997.67 602.72 998.17 602.72 998.67 611.57 999.17 602.70 999.67 612.37 1000.17 612.24 1000.67 605.37 1001.17 605.34 1001.67 610.65 1002.17 604.57 1002.67 612.74 1003.17 603.37 1003.67 616.46 1004.17 604.76 1004.67 604.36 1005.17 603.95 1005.67 619.46 1006.17 601.46 1006.67 601.12 1007.17 617.36 1007.67 602.88 1008.17 616.10 1008.67 605.96 1009.17 606.17 1009.67 618.60 1010.17 606.01 1010.67 617.63 1011.17 603.00 1011.67 619.00 1012.17 601.24 1012.67 622.50 1013.17 601.07 1013.67 619.03 1014.17 602.73 1014.67 609.60 1015.17 608.46 1015.67 600.43 1016.17 599.93 1016.67 599.43 1017.17 609.88 1017.67 609.84 1018.17 609.91 1018.67 599.34 1019.17 612.36 1019.67 612.37 1020.17 612.26 1020.67 599.79 1021.17 611.58 1021.67 601.23 1022.17 610.38 1022.67 598.97 1023.17 608.56 1023.67 597.93 1024.17 605.76 1024.67 593.52 1025.17 605.43 1025.67 594.27 1026.17 602.33 1026.22 600.44 1026.47 616.87 1026.87 616.87 1027.12 600.44 1026.67 602.45 1027.17 595.67 1027.67 605.60 1028.17 597.21 1028.67 597.54 1029.17 605.81 1029.67 596.85 1030.17 607.73 1030.67 599.43 1031.17 609.76 1031.67 599.68 1032.17 609.54 1032.67 597.29 1033.17 605.49 1033.67 599.13 1034.17 598.90 1034.67 602.92 1035.17 602.92 1035.67 600.04 1036.17 603.87 1036.22 601.37 1036.47 631.87 1036.87 631.87 1037.12 601.37 1036.67 597.08 1037.17 603.67 1037.67 596.95 1038.17 596.95 1037.88 601.37 1038.13 590.20 1038.53 590.20 1038.78 601.37 1038.67 596.95 1039.17 605.88 1039.67 597.07 1040.17 603.03 1040.67 598.95 1041.17 610.42 1041.67 597.55 1042.17 622.53 1042.67 597.68 1042.55 609.25 1042.80 625.87 1043.20 625.87 1043.45 609.25 1043.17 621.28 1043.67 596.21 1044.17 618.41 1044.67 596.63 1045.17 617.84 1045.67 594.66 1046.17 612.94 1046.67 594.98 1047.17 603.86 1047.67 594.31 1048.17 608.94 1048.67 597.26 1049.17 612.00 1049.67 597.51 1050.17 608.19 1050.67 606.53 1051.17 604.87 1051.67 595.39 1052.17 604.53 1052.67 594.40 1053.17 594.30 1053.67 594.20 1053.72 598.87 1053.97 577.20 1054.37 577.20 1054.62 598.87 1054.17 602.42 1054.67 594.34 1055.17 594.24 1055.67 603.11 1056.17 596.25 1056.67 602.29 1057.17 594.90 1057.67 602.65 1058.17 596.23 1058.67 606.20 1059.17 596.60 1059.67 607.56 1060.17 595.09 1060.67 607.37 1061.17 606.62 1061.67 590.19 1062.17 604.61 1062.67 593.01 1063.17 592.26 1063.67 603.18 1064.17 592.44 1064.67 605.85 1065.17 594.17 1064.88 601.60 1065.13 616.87 1065.53 616.87 1065.78 601.60 1065.67 606.92 1066.17 608.07 1066.67 609.21 1067.17 610.36 1067.67 610.96 1068.17 598.19 1068.67 609.66 1069.17 595.23 1069.67 593.61 1070.17 611.23 1070.67 592.09 1071.17 608.04 1071.67 592.19 1072.17 609.99 1072.67 609.57 1073.17 592.35 1073.67 592.54 1074.17 592.73 1074.67 611.16 1075.17 596.41 1075.67 612.13 1076.17 595.00 1076.67 609.77 1077.17 598.94 1077.67 612.27 1078.17 612.27 1078.67 612.28 1079.17 612.28 1079.67 610.30 1080.17 608.32 1080.67 606.35 1081.17 591.37 1081.67 599.75 1082.17 599.12 1082.67 590.52 1083.17 599.56 1083.67 598.84 1084.17 598.13 1084.67 590.81 1085.17 596.17 1085.67 590.32 1086.17 594.85 1086.67 590.81 1087.17 596.69 1087.67 590.07 1088.17 596.40 1088.67 589.05 1089.17 595.96 1089.67 588.90 1090.17 596.06 1090.67 587.09 1091.17 585.66 1091.67 600.01 1092.17 583.61 1092.67 605.19 1092.55 592.31 1092.80 608.03 1093.20 608.03 1093.45 592.31 1093.17 581.42 1093.67 595.31 1094.17 582.95 1094.67 582.42 1095.17 581.99 1095.67 581.78 1096.17 581.56 1096.67 598.10 1097.17 581.43 1097.67 581.45 1098.17 598.65 1098.67 584.45 1099.17 592.95 1099.67 585.57 1100.17 593.32 1100.67 586.51 1101.17 599.66 1101.67 582.22 1102.17 582.37 1102.67 598.85 1103.17 581.00 1103.67 598.33 1104.17 581.90 1104.67 594.73 1105.17 585.77 1105.67 597.65 1106.17 580.07 1106.67 594.40 1107.17 582.78 1107.67 599.64 1108.17 581.42 1108.67 599.24 1109.17 599.07 1109.67 583.52 1110.17 593.83 1110.67 577.42 1111.17 593.10 1111.67 592.03 1112.17 591.08 1112.67 571.81 1112.55 582.73 1112.80 561.87 1113.20 561.87 1113.45 582.73 1113.17 591.08 1113.67 571.48 1114.17 571.34 1114.67 591.03 1115.17 590.33 1115.67 573.37 1116.17 589.45 1116.67 577.17 1117.17 593.26 1117.67 584.81 1118.17 587.00 1118.67 588.19 1119.17 588.87 1119.67 599.96 1120.17 586.41 1120.67 605.73 1121.17 606.00 1121.67 588.15 1122.17 606.55 1122.67 606.66 1123.17 590.83 1123.67 591.51 1124.17 604.98 1124.67 590.83 1125.17 604.24 1125.67 603.88 1126.17 587.02 1126.67 601.72 1127.17 589.46 1127.67 603.23 1128.17 585.15 1128.67 598.71 1129.17 588.17 1129.67 604.03 1130.17 590.38 1130.67 597.06 1131.17 583.53 1131.67 604.21 1132.17 586.14 1132.67 586.43 1133.17 603.93 1133.67 585.95 1134.17 602.89 1134.67 588.50 1135.17 589.04 1135.67 600.73 1136.17 587.78 1136.67 603.16 1137.17 603.41 1137.67 589.90 1138.17 602.81 1138.67 602.76 1139.17 586.07 1139.67 599.03 1140.17 598.24 1140.67 596.07 1141.17 584.02 1141.67 592.27 1142.17 583.83 1142.67 593.07 1143.17 583.54 1143.67 597.23 1144.17 585.28 1144.67 598.10 1145.17 583.64 1145.67 595.31 1146.17 587.69 1146.67 598.28 1147.17 598.45 1147.67 586.61 1148.17 598.28 1148.67 599.38 1149.17 585.43 1149.67 603.56 1150.17 587.11 1150.67 602.48 1151.17 584.42 1151.67 599.11 1152.17 599.00 1152.67 599.07 1153.17 592.45 1153.67 602.46 1154.17 602.69 1154.67 589.29 1155.17 605.64 1155.67 604.97 1156.17 591.18 1156.67 601.83 1157.17 590.24 1157.67 600.62 1158.17 599.91 1158.67 599.20 1159.17 587.20 1159.67 598.62 1160.17 589.00 1160.67 597.43 1161.17 590.22 1161.67 590.62 1162.17 591.01 1162.67 591.14 1163.17 603.45 1163.67 588.69 1164.17 595.76 1164.67 586.03 1165.17 585.90 1165.67 585.66 1166.17 597.43 1166.67 598.30 1167.17 586.38 1167.67 602.49 1168.17 602.52 1168.67 584.21 1168.72 595.12 1168.97 651.37 1169.37 651.37 1169.62 595.12 1169.17 605.86 1169.67 584.63 1170.17 601.02 1170.67 590.38 1171.17 604.65 1171.67 589.61 1172.17 604.85 1172.67 586.52 1173.17 605.81 1173.67 586.66 1174.17 602.12 1174.67 592.13 1175.17 607.64 1175.67 591.19 1176.17 601.62 1176.67 585.75 1177.17 599.59 1177.67 598.43 1178.17 598.45 1178.67 586.21 1179.17 597.92 1179.67 590.50 1180.17 599.00 1180.67 586.52 1181.17 586.27 1181.67 586.02 1182.17 598.13 1182.67 585.72 1183.17 594.00 1183.67 585.29 1184.17 596.64 1184.67 584.74 1185.17 584.48 1185.67 592.50 1186.17 587.55 1186.67 594.84 1187.17 583.47 1187.67 594.80 1188.17 582.59 1188.67 591.96 1189.17 584.12 1189.67 593.79 1190.17 593.78 1190.67 594.02 1191.17 594.26 1191.67 594.51 1192.17 585.45 1192.67 593.96 1193.17 581.65 1193.67 596.40 1194.17 585.40 1194.67 598.75 1195.17 581.78 1195.67 596.26 1196.17 584.29 1196.67 600.10 1197.17 589.08 1197.67 601.54 1198.17 593.22 1198.67 595.57" fill="none" stroke="#0000ff" stroke-width="1.9" stroke-linejoin="round" stroke-linecap="round"/></g>
<path d="M217.56 755.45v-11.6M217.56 451.70v11.6M341.33 755.45v-11.6M341.33 451.70v11.6M465.09 755.45v-11.6M465.09 451.70v11.6M588.85 755.45v-11.6M588.85 451.70v11.6M712.61 755.45v-11.6M712.61 451.70v11.6M836.38 755.45v-11.6M836.38 451.70v11.6M960.14 755.45v-11.6M960.14 451.70v11.6M1083.90 755.45v-11.6M1083.90 451.70v11.6M93.80 733.51h11.6M1199.00 733.51h-11.6M93.80 690.14h11.6M1199.00 690.14h-11.6M93.80 646.77h11.6M1199.00 646.77h-11.6M93.80 603.40h11.6M1199.00 603.40h-11.6M93.80 560.03h11.6M1199.00 560.03h-11.6M93.80 516.66h11.6M1199.00 516.66h-11.6M93.80 473.29h11.6M1199.00 473.29h-11.6" stroke="#0d0d0d" stroke-width="1.5" fill="none"/>
<rect x="93.80" y="451.70" width="1105.20" height="303.75" fill="none" stroke="#111" stroke-width="1.6"/>
<circle cx="154.0" cy="603.4" r="5.7" fill="#00ff00"/>
<circle cx="209.8" cy="603.4" r="5.7" fill="#00ff00"/>
<circle cx="214.7" cy="603.4" r="5.7" fill="#00ff00"/>
<circle cx="245.0" cy="603.4" r="5.7" fill="#00ff00"/>
<circle cx="445.6" cy="603.4" r="5.7" fill="#00ff00"/>
<circle cx="456.4" cy="603.4" r="5.7" fill="#00ff00"/>
<circle cx="461.3" cy="603.4" r="5.7" fill="#00ff00"/>
<circle cx="475.5" cy="603.4" r="5.7" fill="#00ff00"/>
<circle cx="675.8" cy="603.4" r="5.7" fill="#00ff00"/>
<circle cx="865.3" cy="603.4" r="5.7" fill="#00ff00"/>
<circle cx="96.3" cy="679.3" r="5.7" fill="#ff0000"/>
<circle cx="197.4" cy="679.3" r="5.7" fill="#ff0000"/>
<circle cx="213.0" cy="679.3" r="5.7" fill="#ff0000"/>
<circle cx="245.0" cy="679.3" r="5.7" fill="#ff0000"/>
<circle cx="445.0" cy="679.3" r="5.7" fill="#ff0000"/>
<circle cx="455.9" cy="679.3" r="5.7" fill="#ff0000"/>
<circle cx="461.2" cy="679.3" r="5.7" fill="#ff0000"/>
<circle cx="475.0" cy="679.3" r="5.7" fill="#ff0000"/>
<circle cx="588.8" cy="679.3" r="5.7" fill="#ff0000"/>
<circle cx="843.2" cy="679.3" r="5.7" fill="#ff0000"/>
<text x="93.80" y="784.55" text-anchor="middle" font-size="20" letter-spacing="0.45">0</text>
<text x="217.56" y="784.55" text-anchor="middle" font-size="20" letter-spacing="0.45">0.5</text>
<text x="341.33" y="784.55" text-anchor="middle" font-size="20" letter-spacing="0.45">1</text>
<text x="465.09" y="784.55" text-anchor="middle" font-size="20" letter-spacing="0.45">1.5</text>
<text x="588.85" y="784.55" text-anchor="middle" font-size="20" letter-spacing="0.45">2</text>
<text x="712.61" y="784.55" text-anchor="middle" font-size="20" letter-spacing="0.45">2.5</text>
<text x="836.38" y="784.55" text-anchor="middle" font-size="20" letter-spacing="0.45">3</text>
<text x="960.14" y="784.55" text-anchor="middle" font-size="20" letter-spacing="0.45">3.5</text>
<text x="1083.90" y="784.55" text-anchor="middle" font-size="20" letter-spacing="0.45">4</text>
<text x="83.6" y="741.51" text-anchor="end" font-size="20" letter-spacing="0.45">0.994</text>
<text x="83.6" y="698.14" text-anchor="end" font-size="20" letter-spacing="0.45">0.996</text>
<text x="83.6" y="654.77" text-anchor="end" font-size="20" letter-spacing="0.45">0.998</text>
<text x="83.6" y="611.40" text-anchor="end" font-size="20" letter-spacing="0.45">1</text>
<text x="83.6" y="568.03" text-anchor="end" font-size="20" letter-spacing="0.45">1.002</text>
<text x="83.6" y="524.66" text-anchor="end" font-size="20" letter-spacing="0.45">1.004</text>
<text x="83.6" y="481.29" text-anchor="end" font-size="20" letter-spacing="0.45">1.006</text>
<text x="1147.6" y="821.45" font-size="27" font-family='"Liberation Serif", serif' dy="1.5">×</text>
<text x="1163.6" y="820.05" font-size="20" letter-spacing="0.3">10</text>
<text x="1189" y="811.45" font-size="16">4</text>
<text x="647.1" y="818.65" text-anchor="middle" font-size="27">Time [min]</text>
<text transform="translate(19.1 602.78) rotate(-90)" text-anchor="middle" font-size="27" letter-spacing="0.05">Price ratio (USDT/DAI)</text>
<text x="646.8" y="442.30" text-anchor="middle" font-size="27" letter-spacing="0.09">Asymmetric Trading Algorithm (ATA)</text>
</g></svg>
</body></html>
